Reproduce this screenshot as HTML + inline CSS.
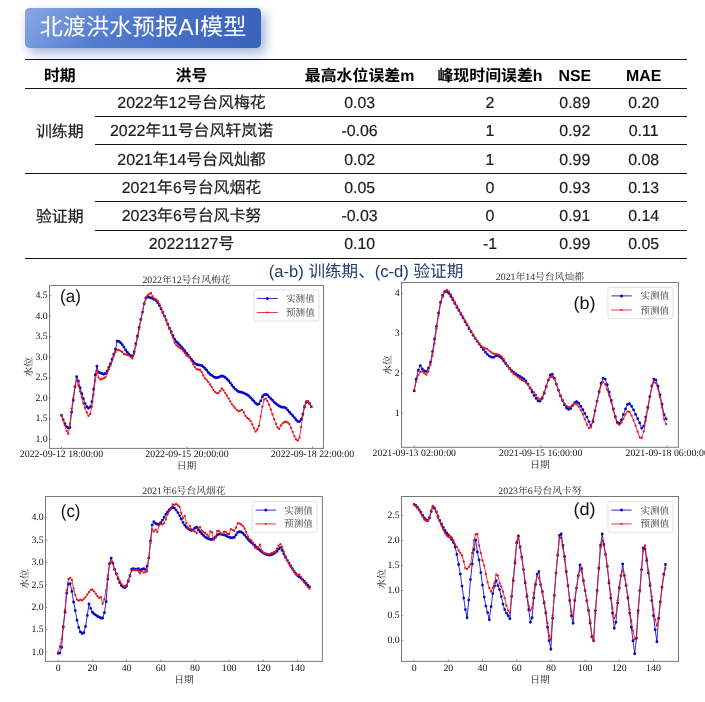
<!DOCTYPE html>
<html lang="zh"><head><meta charset="utf-8"><title>北渡洪水预报AI模型</title>
<style>
html,body{margin:0;padding:0;background:#fff}
body{width:705px;height:702px;position:relative;overflow:hidden;font-family:"Liberation Sans","Noto Sans CJK SC",sans-serif;color:#1c1c1c;text-rendering:geometricPrecision}
svg.charts{position:absolute;left:0;top:0;will-change:transform}
.title{position:absolute;left:25px;top:8.4px;width:236px;height:39.2px;border-radius:4.5px;
 background:linear-gradient(160deg,rgba(255,255,255,.16) 0%,rgba(255,255,255,0) 45%),linear-gradient(100deg,#7398de 0%,#547dd0 30%,#4470c6 62%,#3a62bb 100%);
 box-shadow:4px 5px 12px rgba(60,90,170,.48);color:#fff;font-size:23.1px;line-height:39.2px;text-align:center;white-space:nowrap}
.title span{display:inline-block}
.page{position:absolute;left:0;top:0;width:705px;height:702px;will-change:transform}
.ln{position:absolute}
.c{position:absolute;text-align:center;white-space:nowrap;font-size:15.9px;color:#1c1c1c;-webkit-text-stroke:0.2px #1c1c1c}
.c.h{font-weight:bold;color:#000;font-size:15.9px;-webkit-text-stroke:0}
.c.n{letter-spacing:0}
.cap{position:absolute;left:166px;top:259.8px;width:400px;height:24px;line-height:24px;text-align:center;font-size:16.6px;color:#1f3a70;white-space:nowrap}
</style></head>
<body>
<div class="page">
<div class="title"><span>北渡洪水预报AI模型</span></div>
<div class="ln" style="left:25.2px;top:59.00px;width:661.8px;height:1.15px;background:#111"></div>
<div class="ln" style="left:25.2px;top:88.00px;width:661.8px;height:1.15px;background:#111"></div>
<div class="ln" style="left:94.6px;top:116.00px;width:592.4px;height:1.00px;background:#111"></div>
<div class="ln" style="left:94.6px;top:144.00px;width:592.4px;height:1.00px;background:#111"></div>
<div class="ln" style="left:25.2px;top:173.00px;width:661.8px;height:1.15px;background:#111"></div>
<div class="ln" style="left:94.6px;top:201.00px;width:592.4px;height:1.00px;background:#111"></div>
<div class="ln" style="left:94.6px;top:229.50px;width:592.4px;height:1.00px;background:#111"></div>
<div class="ln" style="left:25.2px;top:258.00px;width:661.8px;height:1.15px;background:#111"></div>
<div class="c h" style="left:-25.2px;top:61.50px;width:170px;height:29.00px;line-height:29.00px">时期</div>
<div class="c h" style="left:106.5px;top:61.50px;width:170px;height:29.00px;line-height:29.00px">洪号</div>
<div class="c h" style="left:274.6px;top:61.50px;width:170px;height:29.00px;line-height:29.00px">最高水位误差m</div>
<div class="c h" style="left:405.0px;top:61.50px;width:170px;height:29.00px;line-height:29.00px">峰现时间误差h</div>
<div class="c h" style="left:489.8px;top:61.50px;width:170px;height:29.00px;line-height:29.00px">NSE</div>
<div class="c h" style="left:558.6px;top:61.50px;width:170px;height:29.00px;line-height:29.00px">MAE</div>
<div class="c n" style="left:106.5px;top:89.70px;width:170px;height:28.00px;line-height:28.00px">2022年12号台风梅花</div>
<div class="c " style="left:274.6px;top:89.70px;width:170px;height:28.00px;line-height:28.00px">0.03</div>
<div class="c " style="left:405.0px;top:89.70px;width:170px;height:28.00px;line-height:28.00px">2</div>
<div class="c " style="left:489.8px;top:89.70px;width:170px;height:28.00px;line-height:28.00px">0.89</div>
<div class="c " style="left:558.6px;top:89.70px;width:170px;height:28.00px;line-height:28.00px">0.20</div>
<div class="c n" style="left:106.5px;top:117.70px;width:170px;height:28.00px;line-height:28.00px">2022年11号台风轩岚诺</div>
<div class="c " style="left:274.6px;top:117.70px;width:170px;height:28.00px;line-height:28.00px">-0.06</div>
<div class="c " style="left:405.0px;top:117.70px;width:170px;height:28.00px;line-height:28.00px">1</div>
<div class="c " style="left:489.8px;top:117.70px;width:170px;height:28.00px;line-height:28.00px">0.92</div>
<div class="c " style="left:558.6px;top:117.70px;width:170px;height:28.00px;line-height:28.00px">0.11</div>
<div class="c n" style="left:106.5px;top:145.70px;width:170px;height:29.00px;line-height:29.00px">2021年14号台风灿都</div>
<div class="c " style="left:274.6px;top:145.70px;width:170px;height:29.00px;line-height:29.00px">0.02</div>
<div class="c " style="left:405.0px;top:145.70px;width:170px;height:29.00px;line-height:29.00px">1</div>
<div class="c " style="left:489.8px;top:145.70px;width:170px;height:29.00px;line-height:29.00px">0.99</div>
<div class="c " style="left:558.6px;top:145.70px;width:170px;height:29.00px;line-height:29.00px">0.08</div>
<div class="c n" style="left:106.5px;top:174.70px;width:170px;height:28.00px;line-height:28.00px">2021年6号台风烟花</div>
<div class="c " style="left:274.6px;top:174.70px;width:170px;height:28.00px;line-height:28.00px">0.05</div>
<div class="c " style="left:405.0px;top:174.70px;width:170px;height:28.00px;line-height:28.00px">0</div>
<div class="c " style="left:489.8px;top:174.70px;width:170px;height:28.00px;line-height:28.00px">0.93</div>
<div class="c " style="left:558.6px;top:174.70px;width:170px;height:28.00px;line-height:28.00px">0.13</div>
<div class="c n" style="left:106.5px;top:202.70px;width:170px;height:28.50px;line-height:28.50px">2023年6号台风卡努</div>
<div class="c " style="left:274.6px;top:202.70px;width:170px;height:28.50px;line-height:28.50px">-0.03</div>
<div class="c " style="left:405.0px;top:202.70px;width:170px;height:28.50px;line-height:28.50px">0</div>
<div class="c " style="left:489.8px;top:202.70px;width:170px;height:28.50px;line-height:28.50px">0.91</div>
<div class="c " style="left:558.6px;top:202.70px;width:170px;height:28.50px;line-height:28.50px">0.14</div>
<div class="c n" style="left:106.5px;top:231.20px;width:170px;height:28.50px;line-height:28.50px">20221127号</div>
<div class="c " style="left:274.6px;top:231.20px;width:170px;height:28.50px;line-height:28.50px">0.10</div>
<div class="c " style="left:405.0px;top:231.20px;width:170px;height:28.50px;line-height:28.50px">-1</div>
<div class="c " style="left:489.8px;top:231.20px;width:170px;height:28.50px;line-height:28.50px">0.99</div>
<div class="c " style="left:558.6px;top:231.20px;width:170px;height:28.50px;line-height:28.50px">0.05</div>
<div class="c " style="left:-25.2px;top:89.70px;width:170px;height:85.00px;line-height:85.00px">训练期</div>
<div class="c " style="left:-25.2px;top:174.70px;width:170px;height:85.00px;line-height:85.00px">验证期</div>
<div class="cap">(a-b) 训练期、(c-d) 验证期</div>
<svg class="charts" width="705" height="702" viewBox="0 0 705 702">
<g>
<polyline fill="none" stroke="#0707c6" stroke-width="0.85" stroke-linejoin="round" points="61.5,415.4 63.2,419.6 64.9,423.7 66.6,426.6 68.3,428.0 69.9,427.5 71.6,412.3 73.3,400.2 75.0,386.7 76.7,376.7 78.4,381.1 80.1,387.7 81.8,393.7 83.4,398.8 85.1,403.6 86.8,406.8 88.5,408.3 90.2,407.0 91.9,401.6 93.6,389.3 95.3,374.9 96.9,366.3 98.6,372.4 100.3,373.0 102.0,373.5 103.7,374.2 105.4,373.5 107.1,371.1 108.8,367.5 110.4,363.9 112.1,359.1 113.8,354.3 115.5,349.3 117.2,341.3 118.9,341.4 120.6,342.7 122.3,344.7 123.9,347.1 125.6,350.0 127.3,352.3 129.0,354.2 130.7,355.8 132.4,356.2 134.1,351.8 135.8,343.8 137.5,336.0 139.1,327.5 140.8,319.4 142.5,312.1 144.2,303.7 145.9,298.3 147.6,296.9 149.3,297.4 151.0,297.9 152.6,298.6 154.3,299.4 156.0,300.5 157.7,302.7 159.4,305.6 161.1,308.9 162.8,312.5 164.5,316.1 166.1,319.9 167.8,324.2 169.5,328.2 171.2,331.8 172.9,335.6 174.6,339.3 176.3,341.8 178.0,343.2 179.6,344.9 181.3,346.8 183.0,348.6 184.7,350.7 186.4,352.9 188.1,355.0 189.8,357.4 191.5,359.5 193.2,361.5 194.8,363.4 196.5,364.3 198.2,364.9 199.9,365.1 201.6,365.5 203.3,366.8 205.0,368.5 206.7,370.3 208.3,372.5 210.0,374.2 211.7,375.4 213.4,376.6 215.1,377.5 216.8,377.8 218.5,377.3 220.2,376.6 221.8,376.0 223.5,376.4 225.2,377.4 226.9,379.0 228.6,380.7 230.3,382.9 232.0,385.3 233.7,387.4 235.3,389.1 237.0,390.6 238.7,391.7 240.4,392.0 242.1,392.5 243.8,393.1 245.5,393.9 247.2,394.8 248.8,396.0 250.5,397.6 252.2,399.5 253.9,401.2 255.6,403.2 257.3,404.4 259.0,404.0 260.7,400.9 262.4,396.8 264.0,394.9 265.7,394.4 267.4,395.0 269.1,396.9 270.8,398.6 272.5,400.3 274.2,402.2 275.9,403.6 277.5,405.0 279.2,406.0 280.9,406.9 282.6,407.3 284.3,407.4 286.0,408.1 287.7,410.1 289.4,412.0 291.0,413.9 292.7,415.6 294.4,417.6 296.1,419.7 297.8,421.4 299.5,421.6 301.2,419.3 302.9,414.1 304.5,407.0 306.2,402.2 307.9,401.7 309.6,403.8 311.3,406.8"/>
<path fill="#0707c6" d="M61.5 415.4m-1.45 0a1.45 1.45 0 1 0 2.90 0a1.45 1.45 0 1 0 -2.90 0M63.2 419.6m-1.45 0a1.45 1.45 0 1 0 2.90 0a1.45 1.45 0 1 0 -2.90 0M64.9 423.7m-1.45 0a1.45 1.45 0 1 0 2.90 0a1.45 1.45 0 1 0 -2.90 0M66.6 426.6m-1.45 0a1.45 1.45 0 1 0 2.90 0a1.45 1.45 0 1 0 -2.90 0M68.3 428.0m-1.45 0a1.45 1.45 0 1 0 2.90 0a1.45 1.45 0 1 0 -2.90 0M69.9 427.5m-1.45 0a1.45 1.45 0 1 0 2.90 0a1.45 1.45 0 1 0 -2.90 0M71.6 412.3m-1.45 0a1.45 1.45 0 1 0 2.90 0a1.45 1.45 0 1 0 -2.90 0M73.3 400.2m-1.45 0a1.45 1.45 0 1 0 2.90 0a1.45 1.45 0 1 0 -2.90 0M75.0 386.7m-1.45 0a1.45 1.45 0 1 0 2.90 0a1.45 1.45 0 1 0 -2.90 0M76.7 376.7m-1.45 0a1.45 1.45 0 1 0 2.90 0a1.45 1.45 0 1 0 -2.90 0M78.4 381.1m-1.45 0a1.45 1.45 0 1 0 2.90 0a1.45 1.45 0 1 0 -2.90 0M80.1 387.7m-1.45 0a1.45 1.45 0 1 0 2.90 0a1.45 1.45 0 1 0 -2.90 0M81.8 393.7m-1.45 0a1.45 1.45 0 1 0 2.90 0a1.45 1.45 0 1 0 -2.90 0M83.4 398.8m-1.45 0a1.45 1.45 0 1 0 2.90 0a1.45 1.45 0 1 0 -2.90 0M85.1 403.6m-1.45 0a1.45 1.45 0 1 0 2.90 0a1.45 1.45 0 1 0 -2.90 0M86.8 406.8m-1.45 0a1.45 1.45 0 1 0 2.90 0a1.45 1.45 0 1 0 -2.90 0M88.5 408.3m-1.45 0a1.45 1.45 0 1 0 2.90 0a1.45 1.45 0 1 0 -2.90 0M90.2 407.0m-1.45 0a1.45 1.45 0 1 0 2.90 0a1.45 1.45 0 1 0 -2.90 0M91.9 401.6m-1.45 0a1.45 1.45 0 1 0 2.90 0a1.45 1.45 0 1 0 -2.90 0M93.6 389.3m-1.45 0a1.45 1.45 0 1 0 2.90 0a1.45 1.45 0 1 0 -2.90 0M95.3 374.9m-1.45 0a1.45 1.45 0 1 0 2.90 0a1.45 1.45 0 1 0 -2.90 0M96.9 366.3m-1.45 0a1.45 1.45 0 1 0 2.90 0a1.45 1.45 0 1 0 -2.90 0M98.6 372.4m-1.45 0a1.45 1.45 0 1 0 2.90 0a1.45 1.45 0 1 0 -2.90 0M100.3 373.0m-1.45 0a1.45 1.45 0 1 0 2.90 0a1.45 1.45 0 1 0 -2.90 0M102.0 373.5m-1.45 0a1.45 1.45 0 1 0 2.90 0a1.45 1.45 0 1 0 -2.90 0M103.7 374.2m-1.45 0a1.45 1.45 0 1 0 2.90 0a1.45 1.45 0 1 0 -2.90 0M105.4 373.5m-1.45 0a1.45 1.45 0 1 0 2.90 0a1.45 1.45 0 1 0 -2.90 0M107.1 371.1m-1.45 0a1.45 1.45 0 1 0 2.90 0a1.45 1.45 0 1 0 -2.90 0M108.8 367.5m-1.45 0a1.45 1.45 0 1 0 2.90 0a1.45 1.45 0 1 0 -2.90 0M110.4 363.9m-1.45 0a1.45 1.45 0 1 0 2.90 0a1.45 1.45 0 1 0 -2.90 0M112.1 359.1m-1.45 0a1.45 1.45 0 1 0 2.90 0a1.45 1.45 0 1 0 -2.90 0M113.8 354.3m-1.45 0a1.45 1.45 0 1 0 2.90 0a1.45 1.45 0 1 0 -2.90 0M115.5 349.3m-1.45 0a1.45 1.45 0 1 0 2.90 0a1.45 1.45 0 1 0 -2.90 0M117.2 341.3m-1.45 0a1.45 1.45 0 1 0 2.90 0a1.45 1.45 0 1 0 -2.90 0M118.9 341.4m-1.45 0a1.45 1.45 0 1 0 2.90 0a1.45 1.45 0 1 0 -2.90 0M120.6 342.7m-1.45 0a1.45 1.45 0 1 0 2.90 0a1.45 1.45 0 1 0 -2.90 0M122.3 344.7m-1.45 0a1.45 1.45 0 1 0 2.90 0a1.45 1.45 0 1 0 -2.90 0M123.9 347.1m-1.45 0a1.45 1.45 0 1 0 2.90 0a1.45 1.45 0 1 0 -2.90 0M125.6 350.0m-1.45 0a1.45 1.45 0 1 0 2.90 0a1.45 1.45 0 1 0 -2.90 0M127.3 352.3m-1.45 0a1.45 1.45 0 1 0 2.90 0a1.45 1.45 0 1 0 -2.90 0M129.0 354.2m-1.45 0a1.45 1.45 0 1 0 2.90 0a1.45 1.45 0 1 0 -2.90 0M130.7 355.8m-1.45 0a1.45 1.45 0 1 0 2.90 0a1.45 1.45 0 1 0 -2.90 0M132.4 356.2m-1.45 0a1.45 1.45 0 1 0 2.90 0a1.45 1.45 0 1 0 -2.90 0M134.1 351.8m-1.45 0a1.45 1.45 0 1 0 2.90 0a1.45 1.45 0 1 0 -2.90 0M135.8 343.8m-1.45 0a1.45 1.45 0 1 0 2.90 0a1.45 1.45 0 1 0 -2.90 0M137.5 336.0m-1.45 0a1.45 1.45 0 1 0 2.90 0a1.45 1.45 0 1 0 -2.90 0M139.1 327.5m-1.45 0a1.45 1.45 0 1 0 2.90 0a1.45 1.45 0 1 0 -2.90 0M140.8 319.4m-1.45 0a1.45 1.45 0 1 0 2.90 0a1.45 1.45 0 1 0 -2.90 0M142.5 312.1m-1.45 0a1.45 1.45 0 1 0 2.90 0a1.45 1.45 0 1 0 -2.90 0M144.2 303.7m-1.45 0a1.45 1.45 0 1 0 2.90 0a1.45 1.45 0 1 0 -2.90 0M145.9 298.3m-1.45 0a1.45 1.45 0 1 0 2.90 0a1.45 1.45 0 1 0 -2.90 0M147.6 296.9m-1.45 0a1.45 1.45 0 1 0 2.90 0a1.45 1.45 0 1 0 -2.90 0M149.3 297.4m-1.45 0a1.45 1.45 0 1 0 2.90 0a1.45 1.45 0 1 0 -2.90 0M151.0 297.9m-1.45 0a1.45 1.45 0 1 0 2.90 0a1.45 1.45 0 1 0 -2.90 0M152.6 298.6m-1.45 0a1.45 1.45 0 1 0 2.90 0a1.45 1.45 0 1 0 -2.90 0M154.3 299.4m-1.45 0a1.45 1.45 0 1 0 2.90 0a1.45 1.45 0 1 0 -2.90 0M156.0 300.5m-1.45 0a1.45 1.45 0 1 0 2.90 0a1.45 1.45 0 1 0 -2.90 0M157.7 302.7m-1.45 0a1.45 1.45 0 1 0 2.90 0a1.45 1.45 0 1 0 -2.90 0M159.4 305.6m-1.45 0a1.45 1.45 0 1 0 2.90 0a1.45 1.45 0 1 0 -2.90 0M161.1 308.9m-1.45 0a1.45 1.45 0 1 0 2.90 0a1.45 1.45 0 1 0 -2.90 0M162.8 312.5m-1.45 0a1.45 1.45 0 1 0 2.90 0a1.45 1.45 0 1 0 -2.90 0M164.5 316.1m-1.45 0a1.45 1.45 0 1 0 2.90 0a1.45 1.45 0 1 0 -2.90 0M166.1 319.9m-1.45 0a1.45 1.45 0 1 0 2.90 0a1.45 1.45 0 1 0 -2.90 0M167.8 324.2m-1.45 0a1.45 1.45 0 1 0 2.90 0a1.45 1.45 0 1 0 -2.90 0M169.5 328.2m-1.45 0a1.45 1.45 0 1 0 2.90 0a1.45 1.45 0 1 0 -2.90 0M171.2 331.8m-1.45 0a1.45 1.45 0 1 0 2.90 0a1.45 1.45 0 1 0 -2.90 0M172.9 335.6m-1.45 0a1.45 1.45 0 1 0 2.90 0a1.45 1.45 0 1 0 -2.90 0M174.6 339.3m-1.45 0a1.45 1.45 0 1 0 2.90 0a1.45 1.45 0 1 0 -2.90 0M176.3 341.8m-1.45 0a1.45 1.45 0 1 0 2.90 0a1.45 1.45 0 1 0 -2.90 0M178.0 343.2m-1.45 0a1.45 1.45 0 1 0 2.90 0a1.45 1.45 0 1 0 -2.90 0M179.6 344.9m-1.45 0a1.45 1.45 0 1 0 2.90 0a1.45 1.45 0 1 0 -2.90 0M181.3 346.8m-1.45 0a1.45 1.45 0 1 0 2.90 0a1.45 1.45 0 1 0 -2.90 0M183.0 348.6m-1.45 0a1.45 1.45 0 1 0 2.90 0a1.45 1.45 0 1 0 -2.90 0M184.7 350.7m-1.45 0a1.45 1.45 0 1 0 2.90 0a1.45 1.45 0 1 0 -2.90 0M186.4 352.9m-1.45 0a1.45 1.45 0 1 0 2.90 0a1.45 1.45 0 1 0 -2.90 0M188.1 355.0m-1.45 0a1.45 1.45 0 1 0 2.90 0a1.45 1.45 0 1 0 -2.90 0M189.8 357.4m-1.45 0a1.45 1.45 0 1 0 2.90 0a1.45 1.45 0 1 0 -2.90 0M191.5 359.5m-1.45 0a1.45 1.45 0 1 0 2.90 0a1.45 1.45 0 1 0 -2.90 0M193.2 361.5m-1.45 0a1.45 1.45 0 1 0 2.90 0a1.45 1.45 0 1 0 -2.90 0M194.8 363.4m-1.45 0a1.45 1.45 0 1 0 2.90 0a1.45 1.45 0 1 0 -2.90 0M196.5 364.3m-1.45 0a1.45 1.45 0 1 0 2.90 0a1.45 1.45 0 1 0 -2.90 0M198.2 364.9m-1.45 0a1.45 1.45 0 1 0 2.90 0a1.45 1.45 0 1 0 -2.90 0M199.9 365.1m-1.45 0a1.45 1.45 0 1 0 2.90 0a1.45 1.45 0 1 0 -2.90 0M201.6 365.5m-1.45 0a1.45 1.45 0 1 0 2.90 0a1.45 1.45 0 1 0 -2.90 0M203.3 366.8m-1.45 0a1.45 1.45 0 1 0 2.90 0a1.45 1.45 0 1 0 -2.90 0M205.0 368.5m-1.45 0a1.45 1.45 0 1 0 2.90 0a1.45 1.45 0 1 0 -2.90 0M206.7 370.3m-1.45 0a1.45 1.45 0 1 0 2.90 0a1.45 1.45 0 1 0 -2.90 0M208.3 372.5m-1.45 0a1.45 1.45 0 1 0 2.90 0a1.45 1.45 0 1 0 -2.90 0M210.0 374.2m-1.45 0a1.45 1.45 0 1 0 2.90 0a1.45 1.45 0 1 0 -2.90 0M211.7 375.4m-1.45 0a1.45 1.45 0 1 0 2.90 0a1.45 1.45 0 1 0 -2.90 0M213.4 376.6m-1.45 0a1.45 1.45 0 1 0 2.90 0a1.45 1.45 0 1 0 -2.90 0M215.1 377.5m-1.45 0a1.45 1.45 0 1 0 2.90 0a1.45 1.45 0 1 0 -2.90 0M216.8 377.8m-1.45 0a1.45 1.45 0 1 0 2.90 0a1.45 1.45 0 1 0 -2.90 0M218.5 377.3m-1.45 0a1.45 1.45 0 1 0 2.90 0a1.45 1.45 0 1 0 -2.90 0M220.2 376.6m-1.45 0a1.45 1.45 0 1 0 2.90 0a1.45 1.45 0 1 0 -2.90 0M221.8 376.0m-1.45 0a1.45 1.45 0 1 0 2.90 0a1.45 1.45 0 1 0 -2.90 0M223.5 376.4m-1.45 0a1.45 1.45 0 1 0 2.90 0a1.45 1.45 0 1 0 -2.90 0M225.2 377.4m-1.45 0a1.45 1.45 0 1 0 2.90 0a1.45 1.45 0 1 0 -2.90 0M226.9 379.0m-1.45 0a1.45 1.45 0 1 0 2.90 0a1.45 1.45 0 1 0 -2.90 0M228.6 380.7m-1.45 0a1.45 1.45 0 1 0 2.90 0a1.45 1.45 0 1 0 -2.90 0M230.3 382.9m-1.45 0a1.45 1.45 0 1 0 2.90 0a1.45 1.45 0 1 0 -2.90 0M232.0 385.3m-1.45 0a1.45 1.45 0 1 0 2.90 0a1.45 1.45 0 1 0 -2.90 0M233.7 387.4m-1.45 0a1.45 1.45 0 1 0 2.90 0a1.45 1.45 0 1 0 -2.90 0M235.3 389.1m-1.45 0a1.45 1.45 0 1 0 2.90 0a1.45 1.45 0 1 0 -2.90 0M237.0 390.6m-1.45 0a1.45 1.45 0 1 0 2.90 0a1.45 1.45 0 1 0 -2.90 0M238.7 391.7m-1.45 0a1.45 1.45 0 1 0 2.90 0a1.45 1.45 0 1 0 -2.90 0M240.4 392.0m-1.45 0a1.45 1.45 0 1 0 2.90 0a1.45 1.45 0 1 0 -2.90 0M242.1 392.5m-1.45 0a1.45 1.45 0 1 0 2.90 0a1.45 1.45 0 1 0 -2.90 0M243.8 393.1m-1.45 0a1.45 1.45 0 1 0 2.90 0a1.45 1.45 0 1 0 -2.90 0M245.5 393.9m-1.45 0a1.45 1.45 0 1 0 2.90 0a1.45 1.45 0 1 0 -2.90 0M247.2 394.8m-1.45 0a1.45 1.45 0 1 0 2.90 0a1.45 1.45 0 1 0 -2.90 0M248.8 396.0m-1.45 0a1.45 1.45 0 1 0 2.90 0a1.45 1.45 0 1 0 -2.90 0M250.5 397.6m-1.45 0a1.45 1.45 0 1 0 2.90 0a1.45 1.45 0 1 0 -2.90 0M252.2 399.5m-1.45 0a1.45 1.45 0 1 0 2.90 0a1.45 1.45 0 1 0 -2.90 0M253.9 401.2m-1.45 0a1.45 1.45 0 1 0 2.90 0a1.45 1.45 0 1 0 -2.90 0M255.6 403.2m-1.45 0a1.45 1.45 0 1 0 2.90 0a1.45 1.45 0 1 0 -2.90 0M257.3 404.4m-1.45 0a1.45 1.45 0 1 0 2.90 0a1.45 1.45 0 1 0 -2.90 0M259.0 404.0m-1.45 0a1.45 1.45 0 1 0 2.90 0a1.45 1.45 0 1 0 -2.90 0M260.7 400.9m-1.45 0a1.45 1.45 0 1 0 2.90 0a1.45 1.45 0 1 0 -2.90 0M262.4 396.8m-1.45 0a1.45 1.45 0 1 0 2.90 0a1.45 1.45 0 1 0 -2.90 0M264.0 394.9m-1.45 0a1.45 1.45 0 1 0 2.90 0a1.45 1.45 0 1 0 -2.90 0M265.7 394.4m-1.45 0a1.45 1.45 0 1 0 2.90 0a1.45 1.45 0 1 0 -2.90 0M267.4 395.0m-1.45 0a1.45 1.45 0 1 0 2.90 0a1.45 1.45 0 1 0 -2.90 0M269.1 396.9m-1.45 0a1.45 1.45 0 1 0 2.90 0a1.45 1.45 0 1 0 -2.90 0M270.8 398.6m-1.45 0a1.45 1.45 0 1 0 2.90 0a1.45 1.45 0 1 0 -2.90 0M272.5 400.3m-1.45 0a1.45 1.45 0 1 0 2.90 0a1.45 1.45 0 1 0 -2.90 0M274.2 402.2m-1.45 0a1.45 1.45 0 1 0 2.90 0a1.45 1.45 0 1 0 -2.90 0M275.9 403.6m-1.45 0a1.45 1.45 0 1 0 2.90 0a1.45 1.45 0 1 0 -2.90 0M277.5 405.0m-1.45 0a1.45 1.45 0 1 0 2.90 0a1.45 1.45 0 1 0 -2.90 0M279.2 406.0m-1.45 0a1.45 1.45 0 1 0 2.90 0a1.45 1.45 0 1 0 -2.90 0M280.9 406.9m-1.45 0a1.45 1.45 0 1 0 2.90 0a1.45 1.45 0 1 0 -2.90 0M282.6 407.3m-1.45 0a1.45 1.45 0 1 0 2.90 0a1.45 1.45 0 1 0 -2.90 0M284.3 407.4m-1.45 0a1.45 1.45 0 1 0 2.90 0a1.45 1.45 0 1 0 -2.90 0M286.0 408.1m-1.45 0a1.45 1.45 0 1 0 2.90 0a1.45 1.45 0 1 0 -2.90 0M287.7 410.1m-1.45 0a1.45 1.45 0 1 0 2.90 0a1.45 1.45 0 1 0 -2.90 0M289.4 412.0m-1.45 0a1.45 1.45 0 1 0 2.90 0a1.45 1.45 0 1 0 -2.90 0M291.0 413.9m-1.45 0a1.45 1.45 0 1 0 2.90 0a1.45 1.45 0 1 0 -2.90 0M292.7 415.6m-1.45 0a1.45 1.45 0 1 0 2.90 0a1.45 1.45 0 1 0 -2.90 0M294.4 417.6m-1.45 0a1.45 1.45 0 1 0 2.90 0a1.45 1.45 0 1 0 -2.90 0M296.1 419.7m-1.45 0a1.45 1.45 0 1 0 2.90 0a1.45 1.45 0 1 0 -2.90 0M297.8 421.4m-1.45 0a1.45 1.45 0 1 0 2.90 0a1.45 1.45 0 1 0 -2.90 0M299.5 421.6m-1.45 0a1.45 1.45 0 1 0 2.90 0a1.45 1.45 0 1 0 -2.90 0M301.2 419.3m-1.45 0a1.45 1.45 0 1 0 2.90 0a1.45 1.45 0 1 0 -2.90 0M302.9 414.1m-1.45 0a1.45 1.45 0 1 0 2.90 0a1.45 1.45 0 1 0 -2.90 0M304.5 407.0m-1.45 0a1.45 1.45 0 1 0 2.90 0a1.45 1.45 0 1 0 -2.90 0M306.2 402.2m-1.45 0a1.45 1.45 0 1 0 2.90 0a1.45 1.45 0 1 0 -2.90 0M307.9 401.7m-1.45 0a1.45 1.45 0 1 0 2.90 0a1.45 1.45 0 1 0 -2.90 0M309.6 403.8m-1.45 0a1.45 1.45 0 1 0 2.90 0a1.45 1.45 0 1 0 -2.90 0M311.3 406.8m-1.45 0a1.45 1.45 0 1 0 2.90 0a1.45 1.45 0 1 0 -2.90 0"/>
<polyline fill="none" stroke="#e2161c" stroke-width="0.85" stroke-linejoin="round" points="61.5,415.5 63.2,420.3 64.9,425.2 66.6,431.1 68.3,433.8 69.9,423.8 71.6,408.8 73.3,397.8 75.0,386.1 76.7,379.3 78.4,385.4 80.1,391.4 81.8,397.4 83.4,403.2 85.1,408.0 86.8,412.5 88.5,415.9 90.2,413.9 91.9,406.7 93.6,394.7 95.3,380.6 96.9,370.7 98.6,377.6 100.3,379.6 102.0,378.9 103.7,378.3 105.4,377.2 107.1,373.6 108.8,369.3 110.4,365.6 112.1,360.9 113.8,356.1 115.5,351.9 117.2,349.8 118.9,350.1 120.6,350.8 122.3,352.0 123.9,353.9 125.6,354.4 127.3,354.9 129.0,355.6 130.7,356.8 132.4,358.6 134.1,354.0 135.8,345.6 137.5,337.7 139.1,329.4 140.8,320.3 142.5,311.8 144.2,303.2 145.9,297.4 147.6,295.2 149.3,294.2 151.0,292.8 152.6,296.5 154.3,298.6 156.0,299.4 157.7,300.8 159.4,304.1 161.1,307.9 162.8,312.2 164.5,316.3 166.1,320.4 167.8,324.8 169.5,329.0 171.2,333.1 172.9,337.7 174.6,342.6 176.3,345.3 178.0,346.5 179.6,347.7 181.3,349.0 183.0,350.7 184.7,353.1 186.4,355.5 188.1,356.3 189.8,357.3 191.5,360.9 193.2,364.3 194.8,367.1 196.5,369.1 198.2,369.7 199.9,369.7 201.6,371.9 203.3,375.5 205.0,378.4 206.7,380.1 208.3,382.1 210.0,384.5 211.7,386.9 213.4,390.1 215.1,392.1 216.8,393.3 218.5,392.9 220.2,390.9 221.8,388.5 223.5,390.3 225.2,393.1 226.9,395.5 228.6,398.4 230.3,401.4 232.0,404.3 233.7,406.4 235.3,408.3 237.0,410.1 238.7,411.4 240.4,410.6 242.1,409.8 243.8,412.4 245.5,415.9 247.2,418.0 248.8,419.1 250.5,420.9 252.2,424.4 253.9,428.1 255.6,431.7 257.3,429.5 259.0,425.9 260.7,416.3 262.4,406.7 264.0,399.6 265.7,398.6 267.4,401.0 269.1,404.7 270.8,409.5 272.5,414.4 274.2,419.2 275.9,423.9 277.5,427.3 279.2,428.9 280.9,425.5 282.6,423.3 284.3,422.2 286.0,421.7 287.7,422.5 289.4,424.2 291.0,427.9 292.7,431.8 294.4,436.3 296.1,439.4 297.8,440.6 299.5,437.7 301.2,427.0 302.9,415.3 304.5,405.9 306.2,401.3 307.9,401.1 309.6,403.5 311.3,406.8"/>
<path fill="#e2161c" d="M61.5 415.5m-1.15 0a1.15 1.15 0 1 0 2.30 0a1.15 1.15 0 1 0 -2.30 0M63.2 420.3m-1.15 0a1.15 1.15 0 1 0 2.30 0a1.15 1.15 0 1 0 -2.30 0M64.9 425.2m-1.15 0a1.15 1.15 0 1 0 2.30 0a1.15 1.15 0 1 0 -2.30 0M66.6 431.1m-1.15 0a1.15 1.15 0 1 0 2.30 0a1.15 1.15 0 1 0 -2.30 0M68.3 433.8m-1.15 0a1.15 1.15 0 1 0 2.30 0a1.15 1.15 0 1 0 -2.30 0M69.9 423.8m-1.15 0a1.15 1.15 0 1 0 2.30 0a1.15 1.15 0 1 0 -2.30 0M71.6 408.8m-1.15 0a1.15 1.15 0 1 0 2.30 0a1.15 1.15 0 1 0 -2.30 0M73.3 397.8m-1.15 0a1.15 1.15 0 1 0 2.30 0a1.15 1.15 0 1 0 -2.30 0M75.0 386.1m-1.15 0a1.15 1.15 0 1 0 2.30 0a1.15 1.15 0 1 0 -2.30 0M76.7 379.3m-1.15 0a1.15 1.15 0 1 0 2.30 0a1.15 1.15 0 1 0 -2.30 0M78.4 385.4m-1.15 0a1.15 1.15 0 1 0 2.30 0a1.15 1.15 0 1 0 -2.30 0M80.1 391.4m-1.15 0a1.15 1.15 0 1 0 2.30 0a1.15 1.15 0 1 0 -2.30 0M81.8 397.4m-1.15 0a1.15 1.15 0 1 0 2.30 0a1.15 1.15 0 1 0 -2.30 0M83.4 403.2m-1.15 0a1.15 1.15 0 1 0 2.30 0a1.15 1.15 0 1 0 -2.30 0M85.1 408.0m-1.15 0a1.15 1.15 0 1 0 2.30 0a1.15 1.15 0 1 0 -2.30 0M86.8 412.5m-1.15 0a1.15 1.15 0 1 0 2.30 0a1.15 1.15 0 1 0 -2.30 0M88.5 415.9m-1.15 0a1.15 1.15 0 1 0 2.30 0a1.15 1.15 0 1 0 -2.30 0M90.2 413.9m-1.15 0a1.15 1.15 0 1 0 2.30 0a1.15 1.15 0 1 0 -2.30 0M91.9 406.7m-1.15 0a1.15 1.15 0 1 0 2.30 0a1.15 1.15 0 1 0 -2.30 0M93.6 394.7m-1.15 0a1.15 1.15 0 1 0 2.30 0a1.15 1.15 0 1 0 -2.30 0M95.3 380.6m-1.15 0a1.15 1.15 0 1 0 2.30 0a1.15 1.15 0 1 0 -2.30 0M96.9 370.7m-1.15 0a1.15 1.15 0 1 0 2.30 0a1.15 1.15 0 1 0 -2.30 0M98.6 377.6m-1.15 0a1.15 1.15 0 1 0 2.30 0a1.15 1.15 0 1 0 -2.30 0M100.3 379.6m-1.15 0a1.15 1.15 0 1 0 2.30 0a1.15 1.15 0 1 0 -2.30 0M102.0 378.9m-1.15 0a1.15 1.15 0 1 0 2.30 0a1.15 1.15 0 1 0 -2.30 0M103.7 378.3m-1.15 0a1.15 1.15 0 1 0 2.30 0a1.15 1.15 0 1 0 -2.30 0M105.4 377.2m-1.15 0a1.15 1.15 0 1 0 2.30 0a1.15 1.15 0 1 0 -2.30 0M107.1 373.6m-1.15 0a1.15 1.15 0 1 0 2.30 0a1.15 1.15 0 1 0 -2.30 0M108.8 369.3m-1.15 0a1.15 1.15 0 1 0 2.30 0a1.15 1.15 0 1 0 -2.30 0M110.4 365.6m-1.15 0a1.15 1.15 0 1 0 2.30 0a1.15 1.15 0 1 0 -2.30 0M112.1 360.9m-1.15 0a1.15 1.15 0 1 0 2.30 0a1.15 1.15 0 1 0 -2.30 0M113.8 356.1m-1.15 0a1.15 1.15 0 1 0 2.30 0a1.15 1.15 0 1 0 -2.30 0M115.5 351.9m-1.15 0a1.15 1.15 0 1 0 2.30 0a1.15 1.15 0 1 0 -2.30 0M117.2 349.8m-1.15 0a1.15 1.15 0 1 0 2.30 0a1.15 1.15 0 1 0 -2.30 0M118.9 350.1m-1.15 0a1.15 1.15 0 1 0 2.30 0a1.15 1.15 0 1 0 -2.30 0M120.6 350.8m-1.15 0a1.15 1.15 0 1 0 2.30 0a1.15 1.15 0 1 0 -2.30 0M122.3 352.0m-1.15 0a1.15 1.15 0 1 0 2.30 0a1.15 1.15 0 1 0 -2.30 0M123.9 353.9m-1.15 0a1.15 1.15 0 1 0 2.30 0a1.15 1.15 0 1 0 -2.30 0M125.6 354.4m-1.15 0a1.15 1.15 0 1 0 2.30 0a1.15 1.15 0 1 0 -2.30 0M127.3 354.9m-1.15 0a1.15 1.15 0 1 0 2.30 0a1.15 1.15 0 1 0 -2.30 0M129.0 355.6m-1.15 0a1.15 1.15 0 1 0 2.30 0a1.15 1.15 0 1 0 -2.30 0M130.7 356.8m-1.15 0a1.15 1.15 0 1 0 2.30 0a1.15 1.15 0 1 0 -2.30 0M132.4 358.6m-1.15 0a1.15 1.15 0 1 0 2.30 0a1.15 1.15 0 1 0 -2.30 0M134.1 354.0m-1.15 0a1.15 1.15 0 1 0 2.30 0a1.15 1.15 0 1 0 -2.30 0M135.8 345.6m-1.15 0a1.15 1.15 0 1 0 2.30 0a1.15 1.15 0 1 0 -2.30 0M137.5 337.7m-1.15 0a1.15 1.15 0 1 0 2.30 0a1.15 1.15 0 1 0 -2.30 0M139.1 329.4m-1.15 0a1.15 1.15 0 1 0 2.30 0a1.15 1.15 0 1 0 -2.30 0M140.8 320.3m-1.15 0a1.15 1.15 0 1 0 2.30 0a1.15 1.15 0 1 0 -2.30 0M142.5 311.8m-1.15 0a1.15 1.15 0 1 0 2.30 0a1.15 1.15 0 1 0 -2.30 0M144.2 303.2m-1.15 0a1.15 1.15 0 1 0 2.30 0a1.15 1.15 0 1 0 -2.30 0M145.9 297.4m-1.15 0a1.15 1.15 0 1 0 2.30 0a1.15 1.15 0 1 0 -2.30 0M147.6 295.2m-1.15 0a1.15 1.15 0 1 0 2.30 0a1.15 1.15 0 1 0 -2.30 0M149.3 294.2m-1.15 0a1.15 1.15 0 1 0 2.30 0a1.15 1.15 0 1 0 -2.30 0M151.0 292.8m-1.15 0a1.15 1.15 0 1 0 2.30 0a1.15 1.15 0 1 0 -2.30 0M152.6 296.5m-1.15 0a1.15 1.15 0 1 0 2.30 0a1.15 1.15 0 1 0 -2.30 0M154.3 298.6m-1.15 0a1.15 1.15 0 1 0 2.30 0a1.15 1.15 0 1 0 -2.30 0M156.0 299.4m-1.15 0a1.15 1.15 0 1 0 2.30 0a1.15 1.15 0 1 0 -2.30 0M157.7 300.8m-1.15 0a1.15 1.15 0 1 0 2.30 0a1.15 1.15 0 1 0 -2.30 0M159.4 304.1m-1.15 0a1.15 1.15 0 1 0 2.30 0a1.15 1.15 0 1 0 -2.30 0M161.1 307.9m-1.15 0a1.15 1.15 0 1 0 2.30 0a1.15 1.15 0 1 0 -2.30 0M162.8 312.2m-1.15 0a1.15 1.15 0 1 0 2.30 0a1.15 1.15 0 1 0 -2.30 0M164.5 316.3m-1.15 0a1.15 1.15 0 1 0 2.30 0a1.15 1.15 0 1 0 -2.30 0M166.1 320.4m-1.15 0a1.15 1.15 0 1 0 2.30 0a1.15 1.15 0 1 0 -2.30 0M167.8 324.8m-1.15 0a1.15 1.15 0 1 0 2.30 0a1.15 1.15 0 1 0 -2.30 0M169.5 329.0m-1.15 0a1.15 1.15 0 1 0 2.30 0a1.15 1.15 0 1 0 -2.30 0M171.2 333.1m-1.15 0a1.15 1.15 0 1 0 2.30 0a1.15 1.15 0 1 0 -2.30 0M172.9 337.7m-1.15 0a1.15 1.15 0 1 0 2.30 0a1.15 1.15 0 1 0 -2.30 0M174.6 342.6m-1.15 0a1.15 1.15 0 1 0 2.30 0a1.15 1.15 0 1 0 -2.30 0M176.3 345.3m-1.15 0a1.15 1.15 0 1 0 2.30 0a1.15 1.15 0 1 0 -2.30 0M178.0 346.5m-1.15 0a1.15 1.15 0 1 0 2.30 0a1.15 1.15 0 1 0 -2.30 0M179.6 347.7m-1.15 0a1.15 1.15 0 1 0 2.30 0a1.15 1.15 0 1 0 -2.30 0M181.3 349.0m-1.15 0a1.15 1.15 0 1 0 2.30 0a1.15 1.15 0 1 0 -2.30 0M183.0 350.7m-1.15 0a1.15 1.15 0 1 0 2.30 0a1.15 1.15 0 1 0 -2.30 0M184.7 353.1m-1.15 0a1.15 1.15 0 1 0 2.30 0a1.15 1.15 0 1 0 -2.30 0M186.4 355.5m-1.15 0a1.15 1.15 0 1 0 2.30 0a1.15 1.15 0 1 0 -2.30 0M188.1 356.3m-1.15 0a1.15 1.15 0 1 0 2.30 0a1.15 1.15 0 1 0 -2.30 0M189.8 357.3m-1.15 0a1.15 1.15 0 1 0 2.30 0a1.15 1.15 0 1 0 -2.30 0M191.5 360.9m-1.15 0a1.15 1.15 0 1 0 2.30 0a1.15 1.15 0 1 0 -2.30 0M193.2 364.3m-1.15 0a1.15 1.15 0 1 0 2.30 0a1.15 1.15 0 1 0 -2.30 0M194.8 367.1m-1.15 0a1.15 1.15 0 1 0 2.30 0a1.15 1.15 0 1 0 -2.30 0M196.5 369.1m-1.15 0a1.15 1.15 0 1 0 2.30 0a1.15 1.15 0 1 0 -2.30 0M198.2 369.7m-1.15 0a1.15 1.15 0 1 0 2.30 0a1.15 1.15 0 1 0 -2.30 0M199.9 369.7m-1.15 0a1.15 1.15 0 1 0 2.30 0a1.15 1.15 0 1 0 -2.30 0M201.6 371.9m-1.15 0a1.15 1.15 0 1 0 2.30 0a1.15 1.15 0 1 0 -2.30 0M203.3 375.5m-1.15 0a1.15 1.15 0 1 0 2.30 0a1.15 1.15 0 1 0 -2.30 0M205.0 378.4m-1.15 0a1.15 1.15 0 1 0 2.30 0a1.15 1.15 0 1 0 -2.30 0M206.7 380.1m-1.15 0a1.15 1.15 0 1 0 2.30 0a1.15 1.15 0 1 0 -2.30 0M208.3 382.1m-1.15 0a1.15 1.15 0 1 0 2.30 0a1.15 1.15 0 1 0 -2.30 0M210.0 384.5m-1.15 0a1.15 1.15 0 1 0 2.30 0a1.15 1.15 0 1 0 -2.30 0M211.7 386.9m-1.15 0a1.15 1.15 0 1 0 2.30 0a1.15 1.15 0 1 0 -2.30 0M213.4 390.1m-1.15 0a1.15 1.15 0 1 0 2.30 0a1.15 1.15 0 1 0 -2.30 0M215.1 392.1m-1.15 0a1.15 1.15 0 1 0 2.30 0a1.15 1.15 0 1 0 -2.30 0M216.8 393.3m-1.15 0a1.15 1.15 0 1 0 2.30 0a1.15 1.15 0 1 0 -2.30 0M218.5 392.9m-1.15 0a1.15 1.15 0 1 0 2.30 0a1.15 1.15 0 1 0 -2.30 0M220.2 390.9m-1.15 0a1.15 1.15 0 1 0 2.30 0a1.15 1.15 0 1 0 -2.30 0M221.8 388.5m-1.15 0a1.15 1.15 0 1 0 2.30 0a1.15 1.15 0 1 0 -2.30 0M223.5 390.3m-1.15 0a1.15 1.15 0 1 0 2.30 0a1.15 1.15 0 1 0 -2.30 0M225.2 393.1m-1.15 0a1.15 1.15 0 1 0 2.30 0a1.15 1.15 0 1 0 -2.30 0M226.9 395.5m-1.15 0a1.15 1.15 0 1 0 2.30 0a1.15 1.15 0 1 0 -2.30 0M228.6 398.4m-1.15 0a1.15 1.15 0 1 0 2.30 0a1.15 1.15 0 1 0 -2.30 0M230.3 401.4m-1.15 0a1.15 1.15 0 1 0 2.30 0a1.15 1.15 0 1 0 -2.30 0M232.0 404.3m-1.15 0a1.15 1.15 0 1 0 2.30 0a1.15 1.15 0 1 0 -2.30 0M233.7 406.4m-1.15 0a1.15 1.15 0 1 0 2.30 0a1.15 1.15 0 1 0 -2.30 0M235.3 408.3m-1.15 0a1.15 1.15 0 1 0 2.30 0a1.15 1.15 0 1 0 -2.30 0M237.0 410.1m-1.15 0a1.15 1.15 0 1 0 2.30 0a1.15 1.15 0 1 0 -2.30 0M238.7 411.4m-1.15 0a1.15 1.15 0 1 0 2.30 0a1.15 1.15 0 1 0 -2.30 0M240.4 410.6m-1.15 0a1.15 1.15 0 1 0 2.30 0a1.15 1.15 0 1 0 -2.30 0M242.1 409.8m-1.15 0a1.15 1.15 0 1 0 2.30 0a1.15 1.15 0 1 0 -2.30 0M243.8 412.4m-1.15 0a1.15 1.15 0 1 0 2.30 0a1.15 1.15 0 1 0 -2.30 0M245.5 415.9m-1.15 0a1.15 1.15 0 1 0 2.30 0a1.15 1.15 0 1 0 -2.30 0M247.2 418.0m-1.15 0a1.15 1.15 0 1 0 2.30 0a1.15 1.15 0 1 0 -2.30 0M248.8 419.1m-1.15 0a1.15 1.15 0 1 0 2.30 0a1.15 1.15 0 1 0 -2.30 0M250.5 420.9m-1.15 0a1.15 1.15 0 1 0 2.30 0a1.15 1.15 0 1 0 -2.30 0M252.2 424.4m-1.15 0a1.15 1.15 0 1 0 2.30 0a1.15 1.15 0 1 0 -2.30 0M253.9 428.1m-1.15 0a1.15 1.15 0 1 0 2.30 0a1.15 1.15 0 1 0 -2.30 0M255.6 431.7m-1.15 0a1.15 1.15 0 1 0 2.30 0a1.15 1.15 0 1 0 -2.30 0M257.3 429.5m-1.15 0a1.15 1.15 0 1 0 2.30 0a1.15 1.15 0 1 0 -2.30 0M259.0 425.9m-1.15 0a1.15 1.15 0 1 0 2.30 0a1.15 1.15 0 1 0 -2.30 0M260.7 416.3m-1.15 0a1.15 1.15 0 1 0 2.30 0a1.15 1.15 0 1 0 -2.30 0M262.4 406.7m-1.15 0a1.15 1.15 0 1 0 2.30 0a1.15 1.15 0 1 0 -2.30 0M264.0 399.6m-1.15 0a1.15 1.15 0 1 0 2.30 0a1.15 1.15 0 1 0 -2.30 0M265.7 398.6m-1.15 0a1.15 1.15 0 1 0 2.30 0a1.15 1.15 0 1 0 -2.30 0M267.4 401.0m-1.15 0a1.15 1.15 0 1 0 2.30 0a1.15 1.15 0 1 0 -2.30 0M269.1 404.7m-1.15 0a1.15 1.15 0 1 0 2.30 0a1.15 1.15 0 1 0 -2.30 0M270.8 409.5m-1.15 0a1.15 1.15 0 1 0 2.30 0a1.15 1.15 0 1 0 -2.30 0M272.5 414.4m-1.15 0a1.15 1.15 0 1 0 2.30 0a1.15 1.15 0 1 0 -2.30 0M274.2 419.2m-1.15 0a1.15 1.15 0 1 0 2.30 0a1.15 1.15 0 1 0 -2.30 0M275.9 423.9m-1.15 0a1.15 1.15 0 1 0 2.30 0a1.15 1.15 0 1 0 -2.30 0M277.5 427.3m-1.15 0a1.15 1.15 0 1 0 2.30 0a1.15 1.15 0 1 0 -2.30 0M279.2 428.9m-1.15 0a1.15 1.15 0 1 0 2.30 0a1.15 1.15 0 1 0 -2.30 0M280.9 425.5m-1.15 0a1.15 1.15 0 1 0 2.30 0a1.15 1.15 0 1 0 -2.30 0M282.6 423.3m-1.15 0a1.15 1.15 0 1 0 2.30 0a1.15 1.15 0 1 0 -2.30 0M284.3 422.2m-1.15 0a1.15 1.15 0 1 0 2.30 0a1.15 1.15 0 1 0 -2.30 0M286.0 421.7m-1.15 0a1.15 1.15 0 1 0 2.30 0a1.15 1.15 0 1 0 -2.30 0M287.7 422.5m-1.15 0a1.15 1.15 0 1 0 2.30 0a1.15 1.15 0 1 0 -2.30 0M289.4 424.2m-1.15 0a1.15 1.15 0 1 0 2.30 0a1.15 1.15 0 1 0 -2.30 0M291.0 427.9m-1.15 0a1.15 1.15 0 1 0 2.30 0a1.15 1.15 0 1 0 -2.30 0M292.7 431.8m-1.15 0a1.15 1.15 0 1 0 2.30 0a1.15 1.15 0 1 0 -2.30 0M294.4 436.3m-1.15 0a1.15 1.15 0 1 0 2.30 0a1.15 1.15 0 1 0 -2.30 0M296.1 439.4m-1.15 0a1.15 1.15 0 1 0 2.30 0a1.15 1.15 0 1 0 -2.30 0M297.8 440.6m-1.15 0a1.15 1.15 0 1 0 2.30 0a1.15 1.15 0 1 0 -2.30 0M299.5 437.7m-1.15 0a1.15 1.15 0 1 0 2.30 0a1.15 1.15 0 1 0 -2.30 0M301.2 427.0m-1.15 0a1.15 1.15 0 1 0 2.30 0a1.15 1.15 0 1 0 -2.30 0M302.9 415.3m-1.15 0a1.15 1.15 0 1 0 2.30 0a1.15 1.15 0 1 0 -2.30 0M304.5 405.9m-1.15 0a1.15 1.15 0 1 0 2.30 0a1.15 1.15 0 1 0 -2.30 0M306.2 401.3m-1.15 0a1.15 1.15 0 1 0 2.30 0a1.15 1.15 0 1 0 -2.30 0M307.9 401.1m-1.15 0a1.15 1.15 0 1 0 2.30 0a1.15 1.15 0 1 0 -2.30 0M309.6 403.5m-1.15 0a1.15 1.15 0 1 0 2.30 0a1.15 1.15 0 1 0 -2.30 0M311.3 406.8m-1.15 0a1.15 1.15 0 1 0 2.30 0a1.15 1.15 0 1 0 -2.30 0"/>
<rect x="49.5" y="285.5" width="274.0" height="162.9" fill="none" stroke="#787878" stroke-width="1"/>
<text x="47.70" y="441.96" font-family="Liberation Serif" font-size="9.85" fill="#141414" text-anchor="end" >1.0</text>
<text x="47.70" y="421.46" font-family="Liberation Serif" font-size="9.85" fill="#141414" text-anchor="end" >1.5</text>
<text x="47.70" y="400.96" font-family="Liberation Serif" font-size="9.85" fill="#141414" text-anchor="end" >2.0</text>
<text x="47.70" y="380.46" font-family="Liberation Serif" font-size="9.85" fill="#141414" text-anchor="end" >2.5</text>
<text x="47.70" y="359.96" font-family="Liberation Serif" font-size="9.85" fill="#141414" text-anchor="end" >3.0</text>
<text x="47.70" y="339.46" font-family="Liberation Serif" font-size="9.85" fill="#141414" text-anchor="end" >3.5</text>
<text x="47.70" y="318.96" font-family="Liberation Serif" font-size="9.85" fill="#141414" text-anchor="end" >4.0</text>
<text x="47.70" y="298.46" font-family="Liberation Serif" font-size="9.85" fill="#141414" text-anchor="end" >4.5</text>
<text x="61.50" y="457.49" font-family="Liberation Serif" font-size="9.85" fill="#141414" text-anchor="middle" >2022-09-12 18:00:00</text>
<text x="187.00" y="457.49" font-family="Liberation Serif" font-size="9.85" fill="#141414" text-anchor="middle" >2022-09-15 20:00:00</text>
<text x="312.50" y="457.49" font-family="Liberation Serif" font-size="9.85" fill="#141414" text-anchor="middle" >2022-09-18 22:00:00</text>
<path d="M49.5 439.3h1.8M49.5 418.8h1.8M49.5 398.3h1.8M49.5 377.8h1.8M49.5 357.3h1.8M49.5 336.8h1.8M49.5 316.3h1.8M49.5 295.8h1.8M61.5 448.4v-1.8M187.0 448.4v-1.8M312.5 448.4v-1.8" stroke="#787878" stroke-width="0.8" fill="none"/>
<text x="142.40" y="282.60" font-family="'Liberation Serif','Noto Serif CJK SC',serif" font-size="9.80" fill="#2c2c2c">2022年12号台风梅花</text>
<text x="176.70" y="469.00" font-family="'Liberation Serif','Noto Serif CJK SC',serif" font-size="9.80" fill="#141414">日期</text>
<g transform="rotate(-90 31.5 366.9)"><text x="21.70" y="366.95" font-family="'Liberation Serif','Noto Serif CJK SC',serif" font-size="9.80" fill="#141414">水位</text></g>
<rect x="254.0" y="290.0" width="65.0" height="31.0" rx="2" fill="#fff" fill-opacity="0.8" stroke="#d9d9d9" stroke-width="0.8"/>
<path d="M256.8 298.4H277.8" stroke="#0707c6" stroke-width="0.85"/>
<circle cx="267.3" cy="298.4" r="1.5" fill="#0707c6"/>
<path d="M256.8 312.5H277.8" stroke="#e2161c" stroke-width="0.85"/>
<circle cx="267.3" cy="312.5" r="1.0" fill="#e2161c"/>
<text x="286.00" y="301.90" font-family="'Liberation Serif','Noto Serif CJK SC',serif" font-size="9.60" fill="#3a3a3a">实测值</text>
<text x="286.00" y="316.00" font-family="'Liberation Serif','Noto Serif CJK SC',serif" font-size="9.60" fill="#3a3a3a">预测值</text>
<text x="70.50" y="301.90" font-family="Liberation Sans" font-size="17.50" fill="#111" text-anchor="middle" textLength="20.8" lengthAdjust="spacingAndGlyphs">(a)</text>
</g>
<g>
<polyline fill="none" stroke="#0707c6" stroke-width="0.85" stroke-linejoin="round" points="414.2,390.9 416.2,379.1 418.3,370.2 420.3,365.7 422.3,369.0 424.4,370.9 426.4,371.5 428.4,368.1 430.5,362.1 432.5,351.6 434.5,339.2 436.5,326.4 438.6,313.0 440.6,302.3 442.6,295.4 444.7,291.8 446.7,291.2 448.7,293.2 450.8,296.2 452.8,299.8 454.8,303.4 456.9,307.2 458.9,310.6 460.9,314.3 463.0,317.8 465.0,321.5 467.0,324.9 469.0,328.6 471.1,331.8 473.1,335.3 475.1,338.2 477.2,341.2 479.2,344.0 481.2,346.9 483.3,349.6 485.3,352.1 487.3,354.3 489.4,356.1 491.4,357.1 493.4,357.4 495.5,356.1 497.5,355.6 499.5,356.6 501.6,358.3 503.6,360.8 505.6,363.6 507.6,365.9 509.7,368.4 511.7,370.6 513.7,372.5 515.8,374.0 517.8,375.2 519.8,376.4 521.9,377.6 523.9,378.9 525.9,381.0 528.0,384.2 530.0,388.1 532.0,392.0 534.1,395.4 536.1,398.4 538.1,400.9 540.1,401.0 542.2,398.3 544.2,393.2 546.2,386.7 548.3,380.1 550.3,374.9 552.3,374.2 554.4,378.2 556.4,384.2 558.4,390.3 560.5,395.9 562.5,400.6 564.5,404.9 566.6,408.0 568.6,409.4 570.6,408.4 572.7,405.4 574.7,402.6 576.7,401.8 578.7,403.3 580.8,406.2 582.8,409.8 584.8,413.5 586.9,417.1 588.9,421.6 590.9,425.5 593.0,421.8 595.0,410.8 597.0,401.2 599.1,391.7 601.1,383.3 603.1,378.2 605.2,379.1 607.2,384.7 609.2,392.1 611.3,400.5 613.3,408.9 615.3,416.6 617.3,422.3 619.4,423.4 621.4,420.0 623.4,414.6 625.5,408.9 627.5,404.4 629.5,403.7 631.6,406.3 633.6,409.9 635.6,414.4 637.7,418.8 639.7,423.0 641.7,428.2 643.8,426.1 645.8,417.1 647.8,407.4 649.8,396.6 651.9,385.9 653.9,379.2 655.9,380.1 658.0,386.2 660.0,394.9 662.0,404.3 664.1,414.7 666.1,418.9"/>
<path fill="#0707c6" d="M414.2 390.9m-1.45 0a1.45 1.45 0 1 0 2.90 0a1.45 1.45 0 1 0 -2.90 0M416.2 379.1m-1.45 0a1.45 1.45 0 1 0 2.90 0a1.45 1.45 0 1 0 -2.90 0M418.3 370.2m-1.45 0a1.45 1.45 0 1 0 2.90 0a1.45 1.45 0 1 0 -2.90 0M420.3 365.7m-1.45 0a1.45 1.45 0 1 0 2.90 0a1.45 1.45 0 1 0 -2.90 0M422.3 369.0m-1.45 0a1.45 1.45 0 1 0 2.90 0a1.45 1.45 0 1 0 -2.90 0M424.4 370.9m-1.45 0a1.45 1.45 0 1 0 2.90 0a1.45 1.45 0 1 0 -2.90 0M426.4 371.5m-1.45 0a1.45 1.45 0 1 0 2.90 0a1.45 1.45 0 1 0 -2.90 0M428.4 368.1m-1.45 0a1.45 1.45 0 1 0 2.90 0a1.45 1.45 0 1 0 -2.90 0M430.5 362.1m-1.45 0a1.45 1.45 0 1 0 2.90 0a1.45 1.45 0 1 0 -2.90 0M432.5 351.6m-1.45 0a1.45 1.45 0 1 0 2.90 0a1.45 1.45 0 1 0 -2.90 0M434.5 339.2m-1.45 0a1.45 1.45 0 1 0 2.90 0a1.45 1.45 0 1 0 -2.90 0M436.5 326.4m-1.45 0a1.45 1.45 0 1 0 2.90 0a1.45 1.45 0 1 0 -2.90 0M438.6 313.0m-1.45 0a1.45 1.45 0 1 0 2.90 0a1.45 1.45 0 1 0 -2.90 0M440.6 302.3m-1.45 0a1.45 1.45 0 1 0 2.90 0a1.45 1.45 0 1 0 -2.90 0M442.6 295.4m-1.45 0a1.45 1.45 0 1 0 2.90 0a1.45 1.45 0 1 0 -2.90 0M444.7 291.8m-1.45 0a1.45 1.45 0 1 0 2.90 0a1.45 1.45 0 1 0 -2.90 0M446.7 291.2m-1.45 0a1.45 1.45 0 1 0 2.90 0a1.45 1.45 0 1 0 -2.90 0M448.7 293.2m-1.45 0a1.45 1.45 0 1 0 2.90 0a1.45 1.45 0 1 0 -2.90 0M450.8 296.2m-1.45 0a1.45 1.45 0 1 0 2.90 0a1.45 1.45 0 1 0 -2.90 0M452.8 299.8m-1.45 0a1.45 1.45 0 1 0 2.90 0a1.45 1.45 0 1 0 -2.90 0M454.8 303.4m-1.45 0a1.45 1.45 0 1 0 2.90 0a1.45 1.45 0 1 0 -2.90 0M456.9 307.2m-1.45 0a1.45 1.45 0 1 0 2.90 0a1.45 1.45 0 1 0 -2.90 0M458.9 310.6m-1.45 0a1.45 1.45 0 1 0 2.90 0a1.45 1.45 0 1 0 -2.90 0M460.9 314.3m-1.45 0a1.45 1.45 0 1 0 2.90 0a1.45 1.45 0 1 0 -2.90 0M463.0 317.8m-1.45 0a1.45 1.45 0 1 0 2.90 0a1.45 1.45 0 1 0 -2.90 0M465.0 321.5m-1.45 0a1.45 1.45 0 1 0 2.90 0a1.45 1.45 0 1 0 -2.90 0M467.0 324.9m-1.45 0a1.45 1.45 0 1 0 2.90 0a1.45 1.45 0 1 0 -2.90 0M469.0 328.6m-1.45 0a1.45 1.45 0 1 0 2.90 0a1.45 1.45 0 1 0 -2.90 0M471.1 331.8m-1.45 0a1.45 1.45 0 1 0 2.90 0a1.45 1.45 0 1 0 -2.90 0M473.1 335.3m-1.45 0a1.45 1.45 0 1 0 2.90 0a1.45 1.45 0 1 0 -2.90 0M475.1 338.2m-1.45 0a1.45 1.45 0 1 0 2.90 0a1.45 1.45 0 1 0 -2.90 0M477.2 341.2m-1.45 0a1.45 1.45 0 1 0 2.90 0a1.45 1.45 0 1 0 -2.90 0M479.2 344.0m-1.45 0a1.45 1.45 0 1 0 2.90 0a1.45 1.45 0 1 0 -2.90 0M481.2 346.9m-1.45 0a1.45 1.45 0 1 0 2.90 0a1.45 1.45 0 1 0 -2.90 0M483.3 349.6m-1.45 0a1.45 1.45 0 1 0 2.90 0a1.45 1.45 0 1 0 -2.90 0M485.3 352.1m-1.45 0a1.45 1.45 0 1 0 2.90 0a1.45 1.45 0 1 0 -2.90 0M487.3 354.3m-1.45 0a1.45 1.45 0 1 0 2.90 0a1.45 1.45 0 1 0 -2.90 0M489.4 356.1m-1.45 0a1.45 1.45 0 1 0 2.90 0a1.45 1.45 0 1 0 -2.90 0M491.4 357.1m-1.45 0a1.45 1.45 0 1 0 2.90 0a1.45 1.45 0 1 0 -2.90 0M493.4 357.4m-1.45 0a1.45 1.45 0 1 0 2.90 0a1.45 1.45 0 1 0 -2.90 0M495.5 356.1m-1.45 0a1.45 1.45 0 1 0 2.90 0a1.45 1.45 0 1 0 -2.90 0M497.5 355.6m-1.45 0a1.45 1.45 0 1 0 2.90 0a1.45 1.45 0 1 0 -2.90 0M499.5 356.6m-1.45 0a1.45 1.45 0 1 0 2.90 0a1.45 1.45 0 1 0 -2.90 0M501.6 358.3m-1.45 0a1.45 1.45 0 1 0 2.90 0a1.45 1.45 0 1 0 -2.90 0M503.6 360.8m-1.45 0a1.45 1.45 0 1 0 2.90 0a1.45 1.45 0 1 0 -2.90 0M505.6 363.6m-1.45 0a1.45 1.45 0 1 0 2.90 0a1.45 1.45 0 1 0 -2.90 0M507.6 365.9m-1.45 0a1.45 1.45 0 1 0 2.90 0a1.45 1.45 0 1 0 -2.90 0M509.7 368.4m-1.45 0a1.45 1.45 0 1 0 2.90 0a1.45 1.45 0 1 0 -2.90 0M511.7 370.6m-1.45 0a1.45 1.45 0 1 0 2.90 0a1.45 1.45 0 1 0 -2.90 0M513.7 372.5m-1.45 0a1.45 1.45 0 1 0 2.90 0a1.45 1.45 0 1 0 -2.90 0M515.8 374.0m-1.45 0a1.45 1.45 0 1 0 2.90 0a1.45 1.45 0 1 0 -2.90 0M517.8 375.2m-1.45 0a1.45 1.45 0 1 0 2.90 0a1.45 1.45 0 1 0 -2.90 0M519.8 376.4m-1.45 0a1.45 1.45 0 1 0 2.90 0a1.45 1.45 0 1 0 -2.90 0M521.9 377.6m-1.45 0a1.45 1.45 0 1 0 2.90 0a1.45 1.45 0 1 0 -2.90 0M523.9 378.9m-1.45 0a1.45 1.45 0 1 0 2.90 0a1.45 1.45 0 1 0 -2.90 0M525.9 381.0m-1.45 0a1.45 1.45 0 1 0 2.90 0a1.45 1.45 0 1 0 -2.90 0M528.0 384.2m-1.45 0a1.45 1.45 0 1 0 2.90 0a1.45 1.45 0 1 0 -2.90 0M530.0 388.1m-1.45 0a1.45 1.45 0 1 0 2.90 0a1.45 1.45 0 1 0 -2.90 0M532.0 392.0m-1.45 0a1.45 1.45 0 1 0 2.90 0a1.45 1.45 0 1 0 -2.90 0M534.1 395.4m-1.45 0a1.45 1.45 0 1 0 2.90 0a1.45 1.45 0 1 0 -2.90 0M536.1 398.4m-1.45 0a1.45 1.45 0 1 0 2.90 0a1.45 1.45 0 1 0 -2.90 0M538.1 400.9m-1.45 0a1.45 1.45 0 1 0 2.90 0a1.45 1.45 0 1 0 -2.90 0M540.1 401.0m-1.45 0a1.45 1.45 0 1 0 2.90 0a1.45 1.45 0 1 0 -2.90 0M542.2 398.3m-1.45 0a1.45 1.45 0 1 0 2.90 0a1.45 1.45 0 1 0 -2.90 0M544.2 393.2m-1.45 0a1.45 1.45 0 1 0 2.90 0a1.45 1.45 0 1 0 -2.90 0M546.2 386.7m-1.45 0a1.45 1.45 0 1 0 2.90 0a1.45 1.45 0 1 0 -2.90 0M548.3 380.1m-1.45 0a1.45 1.45 0 1 0 2.90 0a1.45 1.45 0 1 0 -2.90 0M550.3 374.9m-1.45 0a1.45 1.45 0 1 0 2.90 0a1.45 1.45 0 1 0 -2.90 0M552.3 374.2m-1.45 0a1.45 1.45 0 1 0 2.90 0a1.45 1.45 0 1 0 -2.90 0M554.4 378.2m-1.45 0a1.45 1.45 0 1 0 2.90 0a1.45 1.45 0 1 0 -2.90 0M556.4 384.2m-1.45 0a1.45 1.45 0 1 0 2.90 0a1.45 1.45 0 1 0 -2.90 0M558.4 390.3m-1.45 0a1.45 1.45 0 1 0 2.90 0a1.45 1.45 0 1 0 -2.90 0M560.5 395.9m-1.45 0a1.45 1.45 0 1 0 2.90 0a1.45 1.45 0 1 0 -2.90 0M562.5 400.6m-1.45 0a1.45 1.45 0 1 0 2.90 0a1.45 1.45 0 1 0 -2.90 0M564.5 404.9m-1.45 0a1.45 1.45 0 1 0 2.90 0a1.45 1.45 0 1 0 -2.90 0M566.6 408.0m-1.45 0a1.45 1.45 0 1 0 2.90 0a1.45 1.45 0 1 0 -2.90 0M568.6 409.4m-1.45 0a1.45 1.45 0 1 0 2.90 0a1.45 1.45 0 1 0 -2.90 0M570.6 408.4m-1.45 0a1.45 1.45 0 1 0 2.90 0a1.45 1.45 0 1 0 -2.90 0M572.7 405.4m-1.45 0a1.45 1.45 0 1 0 2.90 0a1.45 1.45 0 1 0 -2.90 0M574.7 402.6m-1.45 0a1.45 1.45 0 1 0 2.90 0a1.45 1.45 0 1 0 -2.90 0M576.7 401.8m-1.45 0a1.45 1.45 0 1 0 2.90 0a1.45 1.45 0 1 0 -2.90 0M578.7 403.3m-1.45 0a1.45 1.45 0 1 0 2.90 0a1.45 1.45 0 1 0 -2.90 0M580.8 406.2m-1.45 0a1.45 1.45 0 1 0 2.90 0a1.45 1.45 0 1 0 -2.90 0M582.8 409.8m-1.45 0a1.45 1.45 0 1 0 2.90 0a1.45 1.45 0 1 0 -2.90 0M584.8 413.5m-1.45 0a1.45 1.45 0 1 0 2.90 0a1.45 1.45 0 1 0 -2.90 0M586.9 417.1m-1.45 0a1.45 1.45 0 1 0 2.90 0a1.45 1.45 0 1 0 -2.90 0M588.9 421.6m-1.45 0a1.45 1.45 0 1 0 2.90 0a1.45 1.45 0 1 0 -2.90 0M590.9 425.5m-1.45 0a1.45 1.45 0 1 0 2.90 0a1.45 1.45 0 1 0 -2.90 0M593.0 421.8m-1.45 0a1.45 1.45 0 1 0 2.90 0a1.45 1.45 0 1 0 -2.90 0M595.0 410.8m-1.45 0a1.45 1.45 0 1 0 2.90 0a1.45 1.45 0 1 0 -2.90 0M597.0 401.2m-1.45 0a1.45 1.45 0 1 0 2.90 0a1.45 1.45 0 1 0 -2.90 0M599.1 391.7m-1.45 0a1.45 1.45 0 1 0 2.90 0a1.45 1.45 0 1 0 -2.90 0M601.1 383.3m-1.45 0a1.45 1.45 0 1 0 2.90 0a1.45 1.45 0 1 0 -2.90 0M603.1 378.2m-1.45 0a1.45 1.45 0 1 0 2.90 0a1.45 1.45 0 1 0 -2.90 0M605.2 379.1m-1.45 0a1.45 1.45 0 1 0 2.90 0a1.45 1.45 0 1 0 -2.90 0M607.2 384.7m-1.45 0a1.45 1.45 0 1 0 2.90 0a1.45 1.45 0 1 0 -2.90 0M609.2 392.1m-1.45 0a1.45 1.45 0 1 0 2.90 0a1.45 1.45 0 1 0 -2.90 0M611.3 400.5m-1.45 0a1.45 1.45 0 1 0 2.90 0a1.45 1.45 0 1 0 -2.90 0M613.3 408.9m-1.45 0a1.45 1.45 0 1 0 2.90 0a1.45 1.45 0 1 0 -2.90 0M615.3 416.6m-1.45 0a1.45 1.45 0 1 0 2.90 0a1.45 1.45 0 1 0 -2.90 0M617.3 422.3m-1.45 0a1.45 1.45 0 1 0 2.90 0a1.45 1.45 0 1 0 -2.90 0M619.4 423.4m-1.45 0a1.45 1.45 0 1 0 2.90 0a1.45 1.45 0 1 0 -2.90 0M621.4 420.0m-1.45 0a1.45 1.45 0 1 0 2.90 0a1.45 1.45 0 1 0 -2.90 0M623.4 414.6m-1.45 0a1.45 1.45 0 1 0 2.90 0a1.45 1.45 0 1 0 -2.90 0M625.5 408.9m-1.45 0a1.45 1.45 0 1 0 2.90 0a1.45 1.45 0 1 0 -2.90 0M627.5 404.4m-1.45 0a1.45 1.45 0 1 0 2.90 0a1.45 1.45 0 1 0 -2.90 0M629.5 403.7m-1.45 0a1.45 1.45 0 1 0 2.90 0a1.45 1.45 0 1 0 -2.90 0M631.6 406.3m-1.45 0a1.45 1.45 0 1 0 2.90 0a1.45 1.45 0 1 0 -2.90 0M633.6 409.9m-1.45 0a1.45 1.45 0 1 0 2.90 0a1.45 1.45 0 1 0 -2.90 0M635.6 414.4m-1.45 0a1.45 1.45 0 1 0 2.90 0a1.45 1.45 0 1 0 -2.90 0M637.7 418.8m-1.45 0a1.45 1.45 0 1 0 2.90 0a1.45 1.45 0 1 0 -2.90 0M639.7 423.0m-1.45 0a1.45 1.45 0 1 0 2.90 0a1.45 1.45 0 1 0 -2.90 0M641.7 428.2m-1.45 0a1.45 1.45 0 1 0 2.90 0a1.45 1.45 0 1 0 -2.90 0M643.8 426.1m-1.45 0a1.45 1.45 0 1 0 2.90 0a1.45 1.45 0 1 0 -2.90 0M645.8 417.1m-1.45 0a1.45 1.45 0 1 0 2.90 0a1.45 1.45 0 1 0 -2.90 0M647.8 407.4m-1.45 0a1.45 1.45 0 1 0 2.90 0a1.45 1.45 0 1 0 -2.90 0M649.8 396.6m-1.45 0a1.45 1.45 0 1 0 2.90 0a1.45 1.45 0 1 0 -2.90 0M651.9 385.9m-1.45 0a1.45 1.45 0 1 0 2.90 0a1.45 1.45 0 1 0 -2.90 0M653.9 379.2m-1.45 0a1.45 1.45 0 1 0 2.90 0a1.45 1.45 0 1 0 -2.90 0M655.9 380.1m-1.45 0a1.45 1.45 0 1 0 2.90 0a1.45 1.45 0 1 0 -2.90 0M658.0 386.2m-1.45 0a1.45 1.45 0 1 0 2.90 0a1.45 1.45 0 1 0 -2.90 0M660.0 394.9m-1.45 0a1.45 1.45 0 1 0 2.90 0a1.45 1.45 0 1 0 -2.90 0M662.0 404.3m-1.45 0a1.45 1.45 0 1 0 2.90 0a1.45 1.45 0 1 0 -2.90 0M664.1 414.7m-1.45 0a1.45 1.45 0 1 0 2.90 0a1.45 1.45 0 1 0 -2.90 0M666.1 418.9m-1.45 0a1.45 1.45 0 1 0 2.90 0a1.45 1.45 0 1 0 -2.90 0"/>
<polyline fill="none" stroke="#e2161c" stroke-width="0.85" stroke-linejoin="round" points="414.2,389.9 416.2,381.3 418.3,375.1 420.3,371.9 422.3,371.4 424.4,373.4 426.4,374.7 428.4,371.6 430.5,364.6 432.5,355.4 434.5,343.7 436.5,328.8 438.6,315.3 440.6,303.5 442.6,296.9 444.7,292.3 446.7,290.0 448.7,291.5 450.8,294.4 452.8,298.2 454.8,302.0 456.9,306.0 458.9,309.4 460.9,313.1 463.0,316.6 465.0,320.3 467.0,323.8 469.0,327.5 471.1,330.9 473.1,334.6 475.1,337.8 477.2,340.9 479.2,343.7 481.2,346.2 483.3,347.6 485.3,348.3 487.3,349.0 489.4,350.8 491.4,352.5 493.4,353.6 495.5,354.1 497.5,354.3 499.5,354.9 501.6,356.4 503.6,359.0 505.6,362.7 507.6,366.0 509.7,369.0 511.7,371.9 513.7,374.0 515.8,375.3 517.8,377.1 519.8,378.7 521.9,380.0 523.9,381.1 525.9,382.7 528.0,385.0 530.0,387.5 532.0,389.8 534.1,392.3 536.1,395.0 538.1,398.2 540.1,399.5 542.2,397.1 544.2,392.0 546.2,386.0 548.3,380.5 550.3,377.1 552.3,377.0 554.4,379.1 556.4,384.4 558.4,390.2 560.5,395.4 562.5,399.9 564.5,403.6 566.6,406.0 568.6,407.2 570.6,406.8 572.7,405.0 574.7,403.7 576.7,404.3 578.7,406.6 580.8,410.1 582.8,414.3 584.8,419.2 586.9,424.6 588.9,428.1 590.9,427.3 593.0,419.8 595.0,410.2 597.0,401.8 599.1,392.9 601.1,385.0 603.1,381.8 605.2,384.1 607.2,389.7 609.2,395.7 611.3,402.3 613.3,410.1 615.3,417.8 617.3,423.4 619.4,424.8 621.4,422.8 623.4,418.8 625.5,414.4 627.5,411.4 629.5,411.9 631.6,415.6 633.6,420.3 635.6,425.8 637.7,431.7 639.7,437.3 641.7,438.0 643.8,431.3 645.8,420.5 647.8,409.1 649.8,397.8 651.9,387.1 653.9,382.2 655.9,383.2 658.0,388.6 660.0,397.3 662.0,407.4 664.1,419.3 666.1,424.1"/>
<path fill="#e2161c" d="M414.2 389.9m-1.15 0a1.15 1.15 0 1 0 2.30 0a1.15 1.15 0 1 0 -2.30 0M416.2 381.3m-1.15 0a1.15 1.15 0 1 0 2.30 0a1.15 1.15 0 1 0 -2.30 0M418.3 375.1m-1.15 0a1.15 1.15 0 1 0 2.30 0a1.15 1.15 0 1 0 -2.30 0M420.3 371.9m-1.15 0a1.15 1.15 0 1 0 2.30 0a1.15 1.15 0 1 0 -2.30 0M422.3 371.4m-1.15 0a1.15 1.15 0 1 0 2.30 0a1.15 1.15 0 1 0 -2.30 0M424.4 373.4m-1.15 0a1.15 1.15 0 1 0 2.30 0a1.15 1.15 0 1 0 -2.30 0M426.4 374.7m-1.15 0a1.15 1.15 0 1 0 2.30 0a1.15 1.15 0 1 0 -2.30 0M428.4 371.6m-1.15 0a1.15 1.15 0 1 0 2.30 0a1.15 1.15 0 1 0 -2.30 0M430.5 364.6m-1.15 0a1.15 1.15 0 1 0 2.30 0a1.15 1.15 0 1 0 -2.30 0M432.5 355.4m-1.15 0a1.15 1.15 0 1 0 2.30 0a1.15 1.15 0 1 0 -2.30 0M434.5 343.7m-1.15 0a1.15 1.15 0 1 0 2.30 0a1.15 1.15 0 1 0 -2.30 0M436.5 328.8m-1.15 0a1.15 1.15 0 1 0 2.30 0a1.15 1.15 0 1 0 -2.30 0M438.6 315.3m-1.15 0a1.15 1.15 0 1 0 2.30 0a1.15 1.15 0 1 0 -2.30 0M440.6 303.5m-1.15 0a1.15 1.15 0 1 0 2.30 0a1.15 1.15 0 1 0 -2.30 0M442.6 296.9m-1.15 0a1.15 1.15 0 1 0 2.30 0a1.15 1.15 0 1 0 -2.30 0M444.7 292.3m-1.15 0a1.15 1.15 0 1 0 2.30 0a1.15 1.15 0 1 0 -2.30 0M446.7 290.0m-1.15 0a1.15 1.15 0 1 0 2.30 0a1.15 1.15 0 1 0 -2.30 0M448.7 291.5m-1.15 0a1.15 1.15 0 1 0 2.30 0a1.15 1.15 0 1 0 -2.30 0M450.8 294.4m-1.15 0a1.15 1.15 0 1 0 2.30 0a1.15 1.15 0 1 0 -2.30 0M452.8 298.2m-1.15 0a1.15 1.15 0 1 0 2.30 0a1.15 1.15 0 1 0 -2.30 0M454.8 302.0m-1.15 0a1.15 1.15 0 1 0 2.30 0a1.15 1.15 0 1 0 -2.30 0M456.9 306.0m-1.15 0a1.15 1.15 0 1 0 2.30 0a1.15 1.15 0 1 0 -2.30 0M458.9 309.4m-1.15 0a1.15 1.15 0 1 0 2.30 0a1.15 1.15 0 1 0 -2.30 0M460.9 313.1m-1.15 0a1.15 1.15 0 1 0 2.30 0a1.15 1.15 0 1 0 -2.30 0M463.0 316.6m-1.15 0a1.15 1.15 0 1 0 2.30 0a1.15 1.15 0 1 0 -2.30 0M465.0 320.3m-1.15 0a1.15 1.15 0 1 0 2.30 0a1.15 1.15 0 1 0 -2.30 0M467.0 323.8m-1.15 0a1.15 1.15 0 1 0 2.30 0a1.15 1.15 0 1 0 -2.30 0M469.0 327.5m-1.15 0a1.15 1.15 0 1 0 2.30 0a1.15 1.15 0 1 0 -2.30 0M471.1 330.9m-1.15 0a1.15 1.15 0 1 0 2.30 0a1.15 1.15 0 1 0 -2.30 0M473.1 334.6m-1.15 0a1.15 1.15 0 1 0 2.30 0a1.15 1.15 0 1 0 -2.30 0M475.1 337.8m-1.15 0a1.15 1.15 0 1 0 2.30 0a1.15 1.15 0 1 0 -2.30 0M477.2 340.9m-1.15 0a1.15 1.15 0 1 0 2.30 0a1.15 1.15 0 1 0 -2.30 0M479.2 343.7m-1.15 0a1.15 1.15 0 1 0 2.30 0a1.15 1.15 0 1 0 -2.30 0M481.2 346.2m-1.15 0a1.15 1.15 0 1 0 2.30 0a1.15 1.15 0 1 0 -2.30 0M483.3 347.6m-1.15 0a1.15 1.15 0 1 0 2.30 0a1.15 1.15 0 1 0 -2.30 0M485.3 348.3m-1.15 0a1.15 1.15 0 1 0 2.30 0a1.15 1.15 0 1 0 -2.30 0M487.3 349.0m-1.15 0a1.15 1.15 0 1 0 2.30 0a1.15 1.15 0 1 0 -2.30 0M489.4 350.8m-1.15 0a1.15 1.15 0 1 0 2.30 0a1.15 1.15 0 1 0 -2.30 0M491.4 352.5m-1.15 0a1.15 1.15 0 1 0 2.30 0a1.15 1.15 0 1 0 -2.30 0M493.4 353.6m-1.15 0a1.15 1.15 0 1 0 2.30 0a1.15 1.15 0 1 0 -2.30 0M495.5 354.1m-1.15 0a1.15 1.15 0 1 0 2.30 0a1.15 1.15 0 1 0 -2.30 0M497.5 354.3m-1.15 0a1.15 1.15 0 1 0 2.30 0a1.15 1.15 0 1 0 -2.30 0M499.5 354.9m-1.15 0a1.15 1.15 0 1 0 2.30 0a1.15 1.15 0 1 0 -2.30 0M501.6 356.4m-1.15 0a1.15 1.15 0 1 0 2.30 0a1.15 1.15 0 1 0 -2.30 0M503.6 359.0m-1.15 0a1.15 1.15 0 1 0 2.30 0a1.15 1.15 0 1 0 -2.30 0M505.6 362.7m-1.15 0a1.15 1.15 0 1 0 2.30 0a1.15 1.15 0 1 0 -2.30 0M507.6 366.0m-1.15 0a1.15 1.15 0 1 0 2.30 0a1.15 1.15 0 1 0 -2.30 0M509.7 369.0m-1.15 0a1.15 1.15 0 1 0 2.30 0a1.15 1.15 0 1 0 -2.30 0M511.7 371.9m-1.15 0a1.15 1.15 0 1 0 2.30 0a1.15 1.15 0 1 0 -2.30 0M513.7 374.0m-1.15 0a1.15 1.15 0 1 0 2.30 0a1.15 1.15 0 1 0 -2.30 0M515.8 375.3m-1.15 0a1.15 1.15 0 1 0 2.30 0a1.15 1.15 0 1 0 -2.30 0M517.8 377.1m-1.15 0a1.15 1.15 0 1 0 2.30 0a1.15 1.15 0 1 0 -2.30 0M519.8 378.7m-1.15 0a1.15 1.15 0 1 0 2.30 0a1.15 1.15 0 1 0 -2.30 0M521.9 380.0m-1.15 0a1.15 1.15 0 1 0 2.30 0a1.15 1.15 0 1 0 -2.30 0M523.9 381.1m-1.15 0a1.15 1.15 0 1 0 2.30 0a1.15 1.15 0 1 0 -2.30 0M525.9 382.7m-1.15 0a1.15 1.15 0 1 0 2.30 0a1.15 1.15 0 1 0 -2.30 0M528.0 385.0m-1.15 0a1.15 1.15 0 1 0 2.30 0a1.15 1.15 0 1 0 -2.30 0M530.0 387.5m-1.15 0a1.15 1.15 0 1 0 2.30 0a1.15 1.15 0 1 0 -2.30 0M532.0 389.8m-1.15 0a1.15 1.15 0 1 0 2.30 0a1.15 1.15 0 1 0 -2.30 0M534.1 392.3m-1.15 0a1.15 1.15 0 1 0 2.30 0a1.15 1.15 0 1 0 -2.30 0M536.1 395.0m-1.15 0a1.15 1.15 0 1 0 2.30 0a1.15 1.15 0 1 0 -2.30 0M538.1 398.2m-1.15 0a1.15 1.15 0 1 0 2.30 0a1.15 1.15 0 1 0 -2.30 0M540.1 399.5m-1.15 0a1.15 1.15 0 1 0 2.30 0a1.15 1.15 0 1 0 -2.30 0M542.2 397.1m-1.15 0a1.15 1.15 0 1 0 2.30 0a1.15 1.15 0 1 0 -2.30 0M544.2 392.0m-1.15 0a1.15 1.15 0 1 0 2.30 0a1.15 1.15 0 1 0 -2.30 0M546.2 386.0m-1.15 0a1.15 1.15 0 1 0 2.30 0a1.15 1.15 0 1 0 -2.30 0M548.3 380.5m-1.15 0a1.15 1.15 0 1 0 2.30 0a1.15 1.15 0 1 0 -2.30 0M550.3 377.1m-1.15 0a1.15 1.15 0 1 0 2.30 0a1.15 1.15 0 1 0 -2.30 0M552.3 377.0m-1.15 0a1.15 1.15 0 1 0 2.30 0a1.15 1.15 0 1 0 -2.30 0M554.4 379.1m-1.15 0a1.15 1.15 0 1 0 2.30 0a1.15 1.15 0 1 0 -2.30 0M556.4 384.4m-1.15 0a1.15 1.15 0 1 0 2.30 0a1.15 1.15 0 1 0 -2.30 0M558.4 390.2m-1.15 0a1.15 1.15 0 1 0 2.30 0a1.15 1.15 0 1 0 -2.30 0M560.5 395.4m-1.15 0a1.15 1.15 0 1 0 2.30 0a1.15 1.15 0 1 0 -2.30 0M562.5 399.9m-1.15 0a1.15 1.15 0 1 0 2.30 0a1.15 1.15 0 1 0 -2.30 0M564.5 403.6m-1.15 0a1.15 1.15 0 1 0 2.30 0a1.15 1.15 0 1 0 -2.30 0M566.6 406.0m-1.15 0a1.15 1.15 0 1 0 2.30 0a1.15 1.15 0 1 0 -2.30 0M568.6 407.2m-1.15 0a1.15 1.15 0 1 0 2.30 0a1.15 1.15 0 1 0 -2.30 0M570.6 406.8m-1.15 0a1.15 1.15 0 1 0 2.30 0a1.15 1.15 0 1 0 -2.30 0M572.7 405.0m-1.15 0a1.15 1.15 0 1 0 2.30 0a1.15 1.15 0 1 0 -2.30 0M574.7 403.7m-1.15 0a1.15 1.15 0 1 0 2.30 0a1.15 1.15 0 1 0 -2.30 0M576.7 404.3m-1.15 0a1.15 1.15 0 1 0 2.30 0a1.15 1.15 0 1 0 -2.30 0M578.7 406.6m-1.15 0a1.15 1.15 0 1 0 2.30 0a1.15 1.15 0 1 0 -2.30 0M580.8 410.1m-1.15 0a1.15 1.15 0 1 0 2.30 0a1.15 1.15 0 1 0 -2.30 0M582.8 414.3m-1.15 0a1.15 1.15 0 1 0 2.30 0a1.15 1.15 0 1 0 -2.30 0M584.8 419.2m-1.15 0a1.15 1.15 0 1 0 2.30 0a1.15 1.15 0 1 0 -2.30 0M586.9 424.6m-1.15 0a1.15 1.15 0 1 0 2.30 0a1.15 1.15 0 1 0 -2.30 0M588.9 428.1m-1.15 0a1.15 1.15 0 1 0 2.30 0a1.15 1.15 0 1 0 -2.30 0M590.9 427.3m-1.15 0a1.15 1.15 0 1 0 2.30 0a1.15 1.15 0 1 0 -2.30 0M593.0 419.8m-1.15 0a1.15 1.15 0 1 0 2.30 0a1.15 1.15 0 1 0 -2.30 0M595.0 410.2m-1.15 0a1.15 1.15 0 1 0 2.30 0a1.15 1.15 0 1 0 -2.30 0M597.0 401.8m-1.15 0a1.15 1.15 0 1 0 2.30 0a1.15 1.15 0 1 0 -2.30 0M599.1 392.9m-1.15 0a1.15 1.15 0 1 0 2.30 0a1.15 1.15 0 1 0 -2.30 0M601.1 385.0m-1.15 0a1.15 1.15 0 1 0 2.30 0a1.15 1.15 0 1 0 -2.30 0M603.1 381.8m-1.15 0a1.15 1.15 0 1 0 2.30 0a1.15 1.15 0 1 0 -2.30 0M605.2 384.1m-1.15 0a1.15 1.15 0 1 0 2.30 0a1.15 1.15 0 1 0 -2.30 0M607.2 389.7m-1.15 0a1.15 1.15 0 1 0 2.30 0a1.15 1.15 0 1 0 -2.30 0M609.2 395.7m-1.15 0a1.15 1.15 0 1 0 2.30 0a1.15 1.15 0 1 0 -2.30 0M611.3 402.3m-1.15 0a1.15 1.15 0 1 0 2.30 0a1.15 1.15 0 1 0 -2.30 0M613.3 410.1m-1.15 0a1.15 1.15 0 1 0 2.30 0a1.15 1.15 0 1 0 -2.30 0M615.3 417.8m-1.15 0a1.15 1.15 0 1 0 2.30 0a1.15 1.15 0 1 0 -2.30 0M617.3 423.4m-1.15 0a1.15 1.15 0 1 0 2.30 0a1.15 1.15 0 1 0 -2.30 0M619.4 424.8m-1.15 0a1.15 1.15 0 1 0 2.30 0a1.15 1.15 0 1 0 -2.30 0M621.4 422.8m-1.15 0a1.15 1.15 0 1 0 2.30 0a1.15 1.15 0 1 0 -2.30 0M623.4 418.8m-1.15 0a1.15 1.15 0 1 0 2.30 0a1.15 1.15 0 1 0 -2.30 0M625.5 414.4m-1.15 0a1.15 1.15 0 1 0 2.30 0a1.15 1.15 0 1 0 -2.30 0M627.5 411.4m-1.15 0a1.15 1.15 0 1 0 2.30 0a1.15 1.15 0 1 0 -2.30 0M629.5 411.9m-1.15 0a1.15 1.15 0 1 0 2.30 0a1.15 1.15 0 1 0 -2.30 0M631.6 415.6m-1.15 0a1.15 1.15 0 1 0 2.30 0a1.15 1.15 0 1 0 -2.30 0M633.6 420.3m-1.15 0a1.15 1.15 0 1 0 2.30 0a1.15 1.15 0 1 0 -2.30 0M635.6 425.8m-1.15 0a1.15 1.15 0 1 0 2.30 0a1.15 1.15 0 1 0 -2.30 0M637.7 431.7m-1.15 0a1.15 1.15 0 1 0 2.30 0a1.15 1.15 0 1 0 -2.30 0M639.7 437.3m-1.15 0a1.15 1.15 0 1 0 2.30 0a1.15 1.15 0 1 0 -2.30 0M641.7 438.0m-1.15 0a1.15 1.15 0 1 0 2.30 0a1.15 1.15 0 1 0 -2.30 0M643.8 431.3m-1.15 0a1.15 1.15 0 1 0 2.30 0a1.15 1.15 0 1 0 -2.30 0M645.8 420.5m-1.15 0a1.15 1.15 0 1 0 2.30 0a1.15 1.15 0 1 0 -2.30 0M647.8 409.1m-1.15 0a1.15 1.15 0 1 0 2.30 0a1.15 1.15 0 1 0 -2.30 0M649.8 397.8m-1.15 0a1.15 1.15 0 1 0 2.30 0a1.15 1.15 0 1 0 -2.30 0M651.9 387.1m-1.15 0a1.15 1.15 0 1 0 2.30 0a1.15 1.15 0 1 0 -2.30 0M653.9 382.2m-1.15 0a1.15 1.15 0 1 0 2.30 0a1.15 1.15 0 1 0 -2.30 0M655.9 383.2m-1.15 0a1.15 1.15 0 1 0 2.30 0a1.15 1.15 0 1 0 -2.30 0M658.0 388.6m-1.15 0a1.15 1.15 0 1 0 2.30 0a1.15 1.15 0 1 0 -2.30 0M660.0 397.3m-1.15 0a1.15 1.15 0 1 0 2.30 0a1.15 1.15 0 1 0 -2.30 0M662.0 407.4m-1.15 0a1.15 1.15 0 1 0 2.30 0a1.15 1.15 0 1 0 -2.30 0M664.1 419.3m-1.15 0a1.15 1.15 0 1 0 2.30 0a1.15 1.15 0 1 0 -2.30 0M666.1 424.1m-1.15 0a1.15 1.15 0 1 0 2.30 0a1.15 1.15 0 1 0 -2.30 0"/>
<rect x="401.5" y="282.5" width="276.9" height="164.8" fill="none" stroke="#787878" stroke-width="1"/>
<text x="399.70" y="415.96" font-family="Liberation Serif" font-size="9.85" fill="#141414" text-anchor="end" >1</text>
<text x="399.70" y="376.01" font-family="Liberation Serif" font-size="9.85" fill="#141414" text-anchor="end" >2</text>
<text x="399.70" y="336.06" font-family="Liberation Serif" font-size="9.85" fill="#141414" text-anchor="end" >3</text>
<text x="399.70" y="296.11" font-family="Liberation Serif" font-size="9.85" fill="#141414" text-anchor="end" >4</text>
<text x="414.30" y="456.39" font-family="Liberation Serif" font-size="9.85" fill="#141414" text-anchor="middle" >2021-09-13 02:00:00</text>
<text x="540.75" y="456.39" font-family="Liberation Serif" font-size="9.85" fill="#141414" text-anchor="middle" >2021-09-15 16:00:00</text>
<text x="667.20" y="456.39" font-family="Liberation Serif" font-size="9.85" fill="#141414" text-anchor="middle" >2021-09-18 06:00:00</text>
<path d="M401.5 413.3h1.8M401.5 373.4h1.8M401.5 333.4h1.8M401.5 293.4h1.8M414.3 447.3v-1.8M540.8 447.3v-1.8M667.2 447.3v-1.8" stroke="#787878" stroke-width="0.8" fill="none"/>
<text x="495.85" y="280.00" font-family="'Liberation Serif','Noto Serif CJK SC',serif" font-size="9.80" fill="#2c2c2c">2021年14号台风灿都</text>
<text x="530.15" y="468.00" font-family="'Liberation Serif','Noto Serif CJK SC',serif" font-size="9.80" fill="#141414">日期</text>
<g transform="rotate(-90 391.3 364.9)"><text x="381.50" y="364.90" font-family="'Liberation Serif','Noto Serif CJK SC',serif" font-size="9.80" fill="#141414">水位</text></g>
<rect x="608.0" y="287.5" width="65.0" height="31.1" rx="2" fill="#fff" fill-opacity="0.8" stroke="#d9d9d9" stroke-width="0.8"/>
<path d="M611.3 295.9H631.7" stroke="#0707c6" stroke-width="0.85"/>
<circle cx="621.5" cy="295.9" r="1.5" fill="#0707c6"/>
<path d="M611.3 310.0H631.7" stroke="#e2161c" stroke-width="0.85"/>
<circle cx="621.5" cy="310.0" r="1.0" fill="#e2161c"/>
<text x="640.40" y="299.40" font-family="'Liberation Serif','Noto Serif CJK SC',serif" font-size="9.60" fill="#3a3a3a">实测值</text>
<text x="640.40" y="313.50" font-family="'Liberation Serif','Noto Serif CJK SC',serif" font-size="9.60" fill="#3a3a3a">预测值</text>
<text x="584.50" y="309.40" font-family="Liberation Sans" font-size="17.50" fill="#111" text-anchor="middle" textLength="22.0" lengthAdjust="spacingAndGlyphs">(b)</text>
</g>
<g>
<polyline fill="none" stroke="#0707c6" stroke-width="0.85" stroke-linejoin="round" points="58.2,653.2 59.9,653.1 61.6,647.4 63.3,627.0 65.0,612.2 66.7,593.2 68.5,584.0 70.2,583.6 71.9,591.4 73.6,602.0 75.3,610.6 77.0,620.2 78.7,627.4 80.4,631.9 82.1,633.5 83.8,632.8 85.5,626.5 87.3,615.4 89.0,604.0 90.7,608.4 92.4,612.2 94.1,613.9 95.8,615.1 97.5,616.3 99.2,617.1 100.9,618.0 102.6,618.0 104.4,612.8 106.1,601.7 107.8,579.1 109.5,563.7 111.2,558.1 112.9,563.3 114.6,569.4 116.3,573.7 118.0,578.6 119.7,582.6 121.4,585.5 123.2,587.1 124.9,587.6 126.6,586.1 128.3,581.2 130.0,575.9 131.7,569.2 133.4,568.7 135.1,569.1 136.8,569.3 138.5,568.8 140.2,570.3 142.0,569.3 143.7,568.7 145.4,569.6 147.1,566.2 148.8,558.1 150.5,541.0 152.2,524.9 153.9,521.8 155.6,523.4 157.3,524.2 159.0,524.3 160.8,522.6 162.5,520.1 164.2,517.2 165.9,514.3 167.6,511.9 169.3,510.0 171.0,508.3 172.7,507.5 174.4,508.1 176.1,510.1 177.9,512.6 179.6,515.6 181.3,519.0 183.0,522.4 184.7,525.2 186.4,527.2 188.1,528.8 189.8,529.8 191.5,530.5 193.2,529.9 194.9,528.0 196.7,527.3 198.4,529.7 200.1,531.8 201.8,533.7 203.5,535.4 205.2,537.1 206.9,538.0 208.6,538.9 210.3,539.3 212.0,539.3 213.7,538.7 215.5,536.9 217.2,535.1 218.9,534.1 220.6,534.1 222.3,534.6 224.0,534.9 225.7,535.5 227.4,536.6 229.1,537.1 230.8,537.8 232.5,537.8 234.3,537.2 236.0,534.9 237.7,532.4 239.4,531.7 241.1,532.0 242.8,533.1 244.5,534.9 246.2,537.1 247.9,539.3 249.6,541.0 251.4,542.6 253.1,544.1 254.8,545.5 256.5,547.1 258.2,548.7 259.9,550.3 261.6,551.8 263.3,553.1 265.0,553.9 266.7,554.6 268.4,554.9 270.2,555.0 271.9,554.6 273.6,553.8 275.3,552.6 277.0,551.2 278.7,548.9 280.4,547.8 282.1,550.4 283.8,554.1 285.5,557.4 287.2,560.3 289.0,563.1 290.7,566.0 292.4,568.6 294.1,571.4 295.8,573.6 297.5,575.5 299.2,576.9 300.9,578.0 302.6,579.6 304.3,581.3 306.0,583.1 307.8,585.1 309.5,587.0"/>
<path fill="#0707c6" d="M58.2 653.2m-1.45 0a1.45 1.45 0 1 0 2.90 0a1.45 1.45 0 1 0 -2.90 0M59.9 653.1m-1.45 0a1.45 1.45 0 1 0 2.90 0a1.45 1.45 0 1 0 -2.90 0M61.6 647.4m-1.45 0a1.45 1.45 0 1 0 2.90 0a1.45 1.45 0 1 0 -2.90 0M63.3 627.0m-1.45 0a1.45 1.45 0 1 0 2.90 0a1.45 1.45 0 1 0 -2.90 0M65.0 612.2m-1.45 0a1.45 1.45 0 1 0 2.90 0a1.45 1.45 0 1 0 -2.90 0M66.7 593.2m-1.45 0a1.45 1.45 0 1 0 2.90 0a1.45 1.45 0 1 0 -2.90 0M68.5 584.0m-1.45 0a1.45 1.45 0 1 0 2.90 0a1.45 1.45 0 1 0 -2.90 0M70.2 583.6m-1.45 0a1.45 1.45 0 1 0 2.90 0a1.45 1.45 0 1 0 -2.90 0M71.9 591.4m-1.45 0a1.45 1.45 0 1 0 2.90 0a1.45 1.45 0 1 0 -2.90 0M73.6 602.0m-1.45 0a1.45 1.45 0 1 0 2.90 0a1.45 1.45 0 1 0 -2.90 0M75.3 610.6m-1.45 0a1.45 1.45 0 1 0 2.90 0a1.45 1.45 0 1 0 -2.90 0M77.0 620.2m-1.45 0a1.45 1.45 0 1 0 2.90 0a1.45 1.45 0 1 0 -2.90 0M78.7 627.4m-1.45 0a1.45 1.45 0 1 0 2.90 0a1.45 1.45 0 1 0 -2.90 0M80.4 631.9m-1.45 0a1.45 1.45 0 1 0 2.90 0a1.45 1.45 0 1 0 -2.90 0M82.1 633.5m-1.45 0a1.45 1.45 0 1 0 2.90 0a1.45 1.45 0 1 0 -2.90 0M83.8 632.8m-1.45 0a1.45 1.45 0 1 0 2.90 0a1.45 1.45 0 1 0 -2.90 0M85.5 626.5m-1.45 0a1.45 1.45 0 1 0 2.90 0a1.45 1.45 0 1 0 -2.90 0M87.3 615.4m-1.45 0a1.45 1.45 0 1 0 2.90 0a1.45 1.45 0 1 0 -2.90 0M89.0 604.0m-1.45 0a1.45 1.45 0 1 0 2.90 0a1.45 1.45 0 1 0 -2.90 0M90.7 608.4m-1.45 0a1.45 1.45 0 1 0 2.90 0a1.45 1.45 0 1 0 -2.90 0M92.4 612.2m-1.45 0a1.45 1.45 0 1 0 2.90 0a1.45 1.45 0 1 0 -2.90 0M94.1 613.9m-1.45 0a1.45 1.45 0 1 0 2.90 0a1.45 1.45 0 1 0 -2.90 0M95.8 615.1m-1.45 0a1.45 1.45 0 1 0 2.90 0a1.45 1.45 0 1 0 -2.90 0M97.5 616.3m-1.45 0a1.45 1.45 0 1 0 2.90 0a1.45 1.45 0 1 0 -2.90 0M99.2 617.1m-1.45 0a1.45 1.45 0 1 0 2.90 0a1.45 1.45 0 1 0 -2.90 0M100.9 618.0m-1.45 0a1.45 1.45 0 1 0 2.90 0a1.45 1.45 0 1 0 -2.90 0M102.6 618.0m-1.45 0a1.45 1.45 0 1 0 2.90 0a1.45 1.45 0 1 0 -2.90 0M104.4 612.8m-1.45 0a1.45 1.45 0 1 0 2.90 0a1.45 1.45 0 1 0 -2.90 0M106.1 601.7m-1.45 0a1.45 1.45 0 1 0 2.90 0a1.45 1.45 0 1 0 -2.90 0M107.8 579.1m-1.45 0a1.45 1.45 0 1 0 2.90 0a1.45 1.45 0 1 0 -2.90 0M109.5 563.7m-1.45 0a1.45 1.45 0 1 0 2.90 0a1.45 1.45 0 1 0 -2.90 0M111.2 558.1m-1.45 0a1.45 1.45 0 1 0 2.90 0a1.45 1.45 0 1 0 -2.90 0M112.9 563.3m-1.45 0a1.45 1.45 0 1 0 2.90 0a1.45 1.45 0 1 0 -2.90 0M114.6 569.4m-1.45 0a1.45 1.45 0 1 0 2.90 0a1.45 1.45 0 1 0 -2.90 0M116.3 573.7m-1.45 0a1.45 1.45 0 1 0 2.90 0a1.45 1.45 0 1 0 -2.90 0M118.0 578.6m-1.45 0a1.45 1.45 0 1 0 2.90 0a1.45 1.45 0 1 0 -2.90 0M119.7 582.6m-1.45 0a1.45 1.45 0 1 0 2.90 0a1.45 1.45 0 1 0 -2.90 0M121.4 585.5m-1.45 0a1.45 1.45 0 1 0 2.90 0a1.45 1.45 0 1 0 -2.90 0M123.2 587.1m-1.45 0a1.45 1.45 0 1 0 2.90 0a1.45 1.45 0 1 0 -2.90 0M124.9 587.6m-1.45 0a1.45 1.45 0 1 0 2.90 0a1.45 1.45 0 1 0 -2.90 0M126.6 586.1m-1.45 0a1.45 1.45 0 1 0 2.90 0a1.45 1.45 0 1 0 -2.90 0M128.3 581.2m-1.45 0a1.45 1.45 0 1 0 2.90 0a1.45 1.45 0 1 0 -2.90 0M130.0 575.9m-1.45 0a1.45 1.45 0 1 0 2.90 0a1.45 1.45 0 1 0 -2.90 0M131.7 569.2m-1.45 0a1.45 1.45 0 1 0 2.90 0a1.45 1.45 0 1 0 -2.90 0M133.4 568.7m-1.45 0a1.45 1.45 0 1 0 2.90 0a1.45 1.45 0 1 0 -2.90 0M135.1 569.1m-1.45 0a1.45 1.45 0 1 0 2.90 0a1.45 1.45 0 1 0 -2.90 0M136.8 569.3m-1.45 0a1.45 1.45 0 1 0 2.90 0a1.45 1.45 0 1 0 -2.90 0M138.5 568.8m-1.45 0a1.45 1.45 0 1 0 2.90 0a1.45 1.45 0 1 0 -2.90 0M140.2 570.3m-1.45 0a1.45 1.45 0 1 0 2.90 0a1.45 1.45 0 1 0 -2.90 0M142.0 569.3m-1.45 0a1.45 1.45 0 1 0 2.90 0a1.45 1.45 0 1 0 -2.90 0M143.7 568.7m-1.45 0a1.45 1.45 0 1 0 2.90 0a1.45 1.45 0 1 0 -2.90 0M145.4 569.6m-1.45 0a1.45 1.45 0 1 0 2.90 0a1.45 1.45 0 1 0 -2.90 0M147.1 566.2m-1.45 0a1.45 1.45 0 1 0 2.90 0a1.45 1.45 0 1 0 -2.90 0M148.8 558.1m-1.45 0a1.45 1.45 0 1 0 2.90 0a1.45 1.45 0 1 0 -2.90 0M150.5 541.0m-1.45 0a1.45 1.45 0 1 0 2.90 0a1.45 1.45 0 1 0 -2.90 0M152.2 524.9m-1.45 0a1.45 1.45 0 1 0 2.90 0a1.45 1.45 0 1 0 -2.90 0M153.9 521.8m-1.45 0a1.45 1.45 0 1 0 2.90 0a1.45 1.45 0 1 0 -2.90 0M155.6 523.4m-1.45 0a1.45 1.45 0 1 0 2.90 0a1.45 1.45 0 1 0 -2.90 0M157.3 524.2m-1.45 0a1.45 1.45 0 1 0 2.90 0a1.45 1.45 0 1 0 -2.90 0M159.0 524.3m-1.45 0a1.45 1.45 0 1 0 2.90 0a1.45 1.45 0 1 0 -2.90 0M160.8 522.6m-1.45 0a1.45 1.45 0 1 0 2.90 0a1.45 1.45 0 1 0 -2.90 0M162.5 520.1m-1.45 0a1.45 1.45 0 1 0 2.90 0a1.45 1.45 0 1 0 -2.90 0M164.2 517.2m-1.45 0a1.45 1.45 0 1 0 2.90 0a1.45 1.45 0 1 0 -2.90 0M165.9 514.3m-1.45 0a1.45 1.45 0 1 0 2.90 0a1.45 1.45 0 1 0 -2.90 0M167.6 511.9m-1.45 0a1.45 1.45 0 1 0 2.90 0a1.45 1.45 0 1 0 -2.90 0M169.3 510.0m-1.45 0a1.45 1.45 0 1 0 2.90 0a1.45 1.45 0 1 0 -2.90 0M171.0 508.3m-1.45 0a1.45 1.45 0 1 0 2.90 0a1.45 1.45 0 1 0 -2.90 0M172.7 507.5m-1.45 0a1.45 1.45 0 1 0 2.90 0a1.45 1.45 0 1 0 -2.90 0M174.4 508.1m-1.45 0a1.45 1.45 0 1 0 2.90 0a1.45 1.45 0 1 0 -2.90 0M176.1 510.1m-1.45 0a1.45 1.45 0 1 0 2.90 0a1.45 1.45 0 1 0 -2.90 0M177.9 512.6m-1.45 0a1.45 1.45 0 1 0 2.90 0a1.45 1.45 0 1 0 -2.90 0M179.6 515.6m-1.45 0a1.45 1.45 0 1 0 2.90 0a1.45 1.45 0 1 0 -2.90 0M181.3 519.0m-1.45 0a1.45 1.45 0 1 0 2.90 0a1.45 1.45 0 1 0 -2.90 0M183.0 522.4m-1.45 0a1.45 1.45 0 1 0 2.90 0a1.45 1.45 0 1 0 -2.90 0M184.7 525.2m-1.45 0a1.45 1.45 0 1 0 2.90 0a1.45 1.45 0 1 0 -2.90 0M186.4 527.2m-1.45 0a1.45 1.45 0 1 0 2.90 0a1.45 1.45 0 1 0 -2.90 0M188.1 528.8m-1.45 0a1.45 1.45 0 1 0 2.90 0a1.45 1.45 0 1 0 -2.90 0M189.8 529.8m-1.45 0a1.45 1.45 0 1 0 2.90 0a1.45 1.45 0 1 0 -2.90 0M191.5 530.5m-1.45 0a1.45 1.45 0 1 0 2.90 0a1.45 1.45 0 1 0 -2.90 0M193.2 529.9m-1.45 0a1.45 1.45 0 1 0 2.90 0a1.45 1.45 0 1 0 -2.90 0M194.9 528.0m-1.45 0a1.45 1.45 0 1 0 2.90 0a1.45 1.45 0 1 0 -2.90 0M196.7 527.3m-1.45 0a1.45 1.45 0 1 0 2.90 0a1.45 1.45 0 1 0 -2.90 0M198.4 529.7m-1.45 0a1.45 1.45 0 1 0 2.90 0a1.45 1.45 0 1 0 -2.90 0M200.1 531.8m-1.45 0a1.45 1.45 0 1 0 2.90 0a1.45 1.45 0 1 0 -2.90 0M201.8 533.7m-1.45 0a1.45 1.45 0 1 0 2.90 0a1.45 1.45 0 1 0 -2.90 0M203.5 535.4m-1.45 0a1.45 1.45 0 1 0 2.90 0a1.45 1.45 0 1 0 -2.90 0M205.2 537.1m-1.45 0a1.45 1.45 0 1 0 2.90 0a1.45 1.45 0 1 0 -2.90 0M206.9 538.0m-1.45 0a1.45 1.45 0 1 0 2.90 0a1.45 1.45 0 1 0 -2.90 0M208.6 538.9m-1.45 0a1.45 1.45 0 1 0 2.90 0a1.45 1.45 0 1 0 -2.90 0M210.3 539.3m-1.45 0a1.45 1.45 0 1 0 2.90 0a1.45 1.45 0 1 0 -2.90 0M212.0 539.3m-1.45 0a1.45 1.45 0 1 0 2.90 0a1.45 1.45 0 1 0 -2.90 0M213.7 538.7m-1.45 0a1.45 1.45 0 1 0 2.90 0a1.45 1.45 0 1 0 -2.90 0M215.5 536.9m-1.45 0a1.45 1.45 0 1 0 2.90 0a1.45 1.45 0 1 0 -2.90 0M217.2 535.1m-1.45 0a1.45 1.45 0 1 0 2.90 0a1.45 1.45 0 1 0 -2.90 0M218.9 534.1m-1.45 0a1.45 1.45 0 1 0 2.90 0a1.45 1.45 0 1 0 -2.90 0M220.6 534.1m-1.45 0a1.45 1.45 0 1 0 2.90 0a1.45 1.45 0 1 0 -2.90 0M222.3 534.6m-1.45 0a1.45 1.45 0 1 0 2.90 0a1.45 1.45 0 1 0 -2.90 0M224.0 534.9m-1.45 0a1.45 1.45 0 1 0 2.90 0a1.45 1.45 0 1 0 -2.90 0M225.7 535.5m-1.45 0a1.45 1.45 0 1 0 2.90 0a1.45 1.45 0 1 0 -2.90 0M227.4 536.6m-1.45 0a1.45 1.45 0 1 0 2.90 0a1.45 1.45 0 1 0 -2.90 0M229.1 537.1m-1.45 0a1.45 1.45 0 1 0 2.90 0a1.45 1.45 0 1 0 -2.90 0M230.8 537.8m-1.45 0a1.45 1.45 0 1 0 2.90 0a1.45 1.45 0 1 0 -2.90 0M232.5 537.8m-1.45 0a1.45 1.45 0 1 0 2.90 0a1.45 1.45 0 1 0 -2.90 0M234.3 537.2m-1.45 0a1.45 1.45 0 1 0 2.90 0a1.45 1.45 0 1 0 -2.90 0M236.0 534.9m-1.45 0a1.45 1.45 0 1 0 2.90 0a1.45 1.45 0 1 0 -2.90 0M237.7 532.4m-1.45 0a1.45 1.45 0 1 0 2.90 0a1.45 1.45 0 1 0 -2.90 0M239.4 531.7m-1.45 0a1.45 1.45 0 1 0 2.90 0a1.45 1.45 0 1 0 -2.90 0M241.1 532.0m-1.45 0a1.45 1.45 0 1 0 2.90 0a1.45 1.45 0 1 0 -2.90 0M242.8 533.1m-1.45 0a1.45 1.45 0 1 0 2.90 0a1.45 1.45 0 1 0 -2.90 0M244.5 534.9m-1.45 0a1.45 1.45 0 1 0 2.90 0a1.45 1.45 0 1 0 -2.90 0M246.2 537.1m-1.45 0a1.45 1.45 0 1 0 2.90 0a1.45 1.45 0 1 0 -2.90 0M247.9 539.3m-1.45 0a1.45 1.45 0 1 0 2.90 0a1.45 1.45 0 1 0 -2.90 0M249.6 541.0m-1.45 0a1.45 1.45 0 1 0 2.90 0a1.45 1.45 0 1 0 -2.90 0M251.4 542.6m-1.45 0a1.45 1.45 0 1 0 2.90 0a1.45 1.45 0 1 0 -2.90 0M253.1 544.1m-1.45 0a1.45 1.45 0 1 0 2.90 0a1.45 1.45 0 1 0 -2.90 0M254.8 545.5m-1.45 0a1.45 1.45 0 1 0 2.90 0a1.45 1.45 0 1 0 -2.90 0M256.5 547.1m-1.45 0a1.45 1.45 0 1 0 2.90 0a1.45 1.45 0 1 0 -2.90 0M258.2 548.7m-1.45 0a1.45 1.45 0 1 0 2.90 0a1.45 1.45 0 1 0 -2.90 0M259.9 550.3m-1.45 0a1.45 1.45 0 1 0 2.90 0a1.45 1.45 0 1 0 -2.90 0M261.6 551.8m-1.45 0a1.45 1.45 0 1 0 2.90 0a1.45 1.45 0 1 0 -2.90 0M263.3 553.1m-1.45 0a1.45 1.45 0 1 0 2.90 0a1.45 1.45 0 1 0 -2.90 0M265.0 553.9m-1.45 0a1.45 1.45 0 1 0 2.90 0a1.45 1.45 0 1 0 -2.90 0M266.7 554.6m-1.45 0a1.45 1.45 0 1 0 2.90 0a1.45 1.45 0 1 0 -2.90 0M268.4 554.9m-1.45 0a1.45 1.45 0 1 0 2.90 0a1.45 1.45 0 1 0 -2.90 0M270.2 555.0m-1.45 0a1.45 1.45 0 1 0 2.90 0a1.45 1.45 0 1 0 -2.90 0M271.9 554.6m-1.45 0a1.45 1.45 0 1 0 2.90 0a1.45 1.45 0 1 0 -2.90 0M273.6 553.8m-1.45 0a1.45 1.45 0 1 0 2.90 0a1.45 1.45 0 1 0 -2.90 0M275.3 552.6m-1.45 0a1.45 1.45 0 1 0 2.90 0a1.45 1.45 0 1 0 -2.90 0M277.0 551.2m-1.45 0a1.45 1.45 0 1 0 2.90 0a1.45 1.45 0 1 0 -2.90 0M278.7 548.9m-1.45 0a1.45 1.45 0 1 0 2.90 0a1.45 1.45 0 1 0 -2.90 0M280.4 547.8m-1.45 0a1.45 1.45 0 1 0 2.90 0a1.45 1.45 0 1 0 -2.90 0M282.1 550.4m-1.45 0a1.45 1.45 0 1 0 2.90 0a1.45 1.45 0 1 0 -2.90 0M283.8 554.1m-1.45 0a1.45 1.45 0 1 0 2.90 0a1.45 1.45 0 1 0 -2.90 0M285.5 557.4m-1.45 0a1.45 1.45 0 1 0 2.90 0a1.45 1.45 0 1 0 -2.90 0M287.2 560.3m-1.45 0a1.45 1.45 0 1 0 2.90 0a1.45 1.45 0 1 0 -2.90 0M289.0 563.1m-1.45 0a1.45 1.45 0 1 0 2.90 0a1.45 1.45 0 1 0 -2.90 0M290.7 566.0m-1.45 0a1.45 1.45 0 1 0 2.90 0a1.45 1.45 0 1 0 -2.90 0M292.4 568.6m-1.45 0a1.45 1.45 0 1 0 2.90 0a1.45 1.45 0 1 0 -2.90 0M294.1 571.4m-1.45 0a1.45 1.45 0 1 0 2.90 0a1.45 1.45 0 1 0 -2.90 0M295.8 573.6m-1.45 0a1.45 1.45 0 1 0 2.90 0a1.45 1.45 0 1 0 -2.90 0M297.5 575.5m-1.45 0a1.45 1.45 0 1 0 2.90 0a1.45 1.45 0 1 0 -2.90 0M299.2 576.9m-1.45 0a1.45 1.45 0 1 0 2.90 0a1.45 1.45 0 1 0 -2.90 0M300.9 578.0m-1.45 0a1.45 1.45 0 1 0 2.90 0a1.45 1.45 0 1 0 -2.90 0M302.6 579.6m-1.45 0a1.45 1.45 0 1 0 2.90 0a1.45 1.45 0 1 0 -2.90 0M304.3 581.3m-1.45 0a1.45 1.45 0 1 0 2.90 0a1.45 1.45 0 1 0 -2.90 0M306.0 583.1m-1.45 0a1.45 1.45 0 1 0 2.90 0a1.45 1.45 0 1 0 -2.90 0M307.8 585.1m-1.45 0a1.45 1.45 0 1 0 2.90 0a1.45 1.45 0 1 0 -2.90 0M309.5 587.0m-1.45 0a1.45 1.45 0 1 0 2.90 0a1.45 1.45 0 1 0 -2.90 0"/>
<polyline fill="none" stroke="#e2161c" stroke-width="0.85" stroke-linejoin="round" points="58.2,652.3 59.9,646.5 61.6,639.1 63.3,625.8 65.0,609.9 66.7,590.7 68.5,579.2 70.2,577.8 71.9,580.0 73.6,588.6 75.3,595.0 77.0,599.6 78.7,600.7 80.4,599.7 82.1,600.5 83.8,598.8 85.5,597.1 87.3,594.6 89.0,592.2 90.7,590.0 92.4,589.6 94.1,591.3 95.8,593.7 97.5,596.2 99.2,598.1 100.9,597.1 102.6,603.8 104.4,599.2 106.1,590.3 107.8,575.9 109.5,564.6 111.2,561.7 112.9,564.1 114.6,569.4 116.3,573.7 118.0,577.3 119.7,580.9 121.4,584.0 123.2,586.1 124.9,586.4 126.6,584.9 128.3,580.0 130.0,575.1 131.7,570.8 133.4,569.9 135.1,570.3 136.8,569.9 138.5,571.3 140.2,573.4 142.0,571.1 143.7,572.6 145.4,572.2 147.1,571.2 148.8,557.3 150.5,543.4 152.2,529.4 153.9,531.6 155.6,529.7 157.3,532.1 159.0,525.6 160.8,524.1 162.5,524.5 164.2,523.1 165.9,519.3 167.6,514.6 169.3,511.0 171.0,507.8 172.7,504.4 174.4,504.9 176.1,504.0 177.9,505.3 179.6,506.8 181.3,512.9 183.0,518.4 184.7,515.8 186.4,523.1 188.1,528.9 189.8,525.9 191.5,529.4 193.2,530.6 194.9,531.6 196.7,533.3 198.4,528.0 200.1,527.1 201.8,530.6 203.5,531.8 205.2,533.0 206.9,534.6 208.6,536.7 210.3,531.3 212.0,532.4 213.7,539.9 215.5,537.9 217.2,531.1 218.9,530.9 220.6,533.0 222.3,533.9 224.0,531.7 225.7,532.0 227.4,533.9 229.1,534.0 230.8,529.2 232.5,529.8 234.3,530.9 236.0,527.7 237.7,523.4 239.4,523.3 241.1,524.4 242.8,525.8 244.5,528.5 246.2,532.1 247.9,536.4 249.6,539.4 251.4,540.3 253.1,542.9 254.8,547.5 256.5,548.5 258.2,547.5 259.9,544.7 261.6,550.5 263.3,552.5 265.0,553.4 266.7,553.7 268.4,554.1 270.2,553.9 271.9,552.8 273.6,552.4 275.3,551.8 277.0,549.0 278.7,545.6 280.4,544.1 282.1,546.8 283.8,551.7 285.5,556.2 287.2,560.2 289.0,563.7 290.7,566.8 292.4,569.6 294.1,572.1 295.8,574.5 297.5,574.9 299.2,574.5 300.9,576.8 302.6,580.4 304.3,582.6 306.0,584.8 307.8,586.9 309.5,588.7"/>
<path fill="#e2161c" d="M58.2 652.3m-1.15 0a1.15 1.15 0 1 0 2.30 0a1.15 1.15 0 1 0 -2.30 0M59.9 646.5m-1.15 0a1.15 1.15 0 1 0 2.30 0a1.15 1.15 0 1 0 -2.30 0M61.6 639.1m-1.15 0a1.15 1.15 0 1 0 2.30 0a1.15 1.15 0 1 0 -2.30 0M63.3 625.8m-1.15 0a1.15 1.15 0 1 0 2.30 0a1.15 1.15 0 1 0 -2.30 0M65.0 609.9m-1.15 0a1.15 1.15 0 1 0 2.30 0a1.15 1.15 0 1 0 -2.30 0M66.7 590.7m-1.15 0a1.15 1.15 0 1 0 2.30 0a1.15 1.15 0 1 0 -2.30 0M68.5 579.2m-1.15 0a1.15 1.15 0 1 0 2.30 0a1.15 1.15 0 1 0 -2.30 0M70.2 577.8m-1.15 0a1.15 1.15 0 1 0 2.30 0a1.15 1.15 0 1 0 -2.30 0M71.9 580.0m-1.15 0a1.15 1.15 0 1 0 2.30 0a1.15 1.15 0 1 0 -2.30 0M73.6 588.6m-1.15 0a1.15 1.15 0 1 0 2.30 0a1.15 1.15 0 1 0 -2.30 0M75.3 595.0m-1.15 0a1.15 1.15 0 1 0 2.30 0a1.15 1.15 0 1 0 -2.30 0M77.0 599.6m-1.15 0a1.15 1.15 0 1 0 2.30 0a1.15 1.15 0 1 0 -2.30 0M78.7 600.7m-1.15 0a1.15 1.15 0 1 0 2.30 0a1.15 1.15 0 1 0 -2.30 0M80.4 599.7m-1.15 0a1.15 1.15 0 1 0 2.30 0a1.15 1.15 0 1 0 -2.30 0M82.1 600.5m-1.15 0a1.15 1.15 0 1 0 2.30 0a1.15 1.15 0 1 0 -2.30 0M83.8 598.8m-1.15 0a1.15 1.15 0 1 0 2.30 0a1.15 1.15 0 1 0 -2.30 0M85.5 597.1m-1.15 0a1.15 1.15 0 1 0 2.30 0a1.15 1.15 0 1 0 -2.30 0M87.3 594.6m-1.15 0a1.15 1.15 0 1 0 2.30 0a1.15 1.15 0 1 0 -2.30 0M89.0 592.2m-1.15 0a1.15 1.15 0 1 0 2.30 0a1.15 1.15 0 1 0 -2.30 0M90.7 590.0m-1.15 0a1.15 1.15 0 1 0 2.30 0a1.15 1.15 0 1 0 -2.30 0M92.4 589.6m-1.15 0a1.15 1.15 0 1 0 2.30 0a1.15 1.15 0 1 0 -2.30 0M94.1 591.3m-1.15 0a1.15 1.15 0 1 0 2.30 0a1.15 1.15 0 1 0 -2.30 0M95.8 593.7m-1.15 0a1.15 1.15 0 1 0 2.30 0a1.15 1.15 0 1 0 -2.30 0M97.5 596.2m-1.15 0a1.15 1.15 0 1 0 2.30 0a1.15 1.15 0 1 0 -2.30 0M99.2 598.1m-1.15 0a1.15 1.15 0 1 0 2.30 0a1.15 1.15 0 1 0 -2.30 0M100.9 597.1m-1.15 0a1.15 1.15 0 1 0 2.30 0a1.15 1.15 0 1 0 -2.30 0M102.6 603.8m-1.15 0a1.15 1.15 0 1 0 2.30 0a1.15 1.15 0 1 0 -2.30 0M104.4 599.2m-1.15 0a1.15 1.15 0 1 0 2.30 0a1.15 1.15 0 1 0 -2.30 0M106.1 590.3m-1.15 0a1.15 1.15 0 1 0 2.30 0a1.15 1.15 0 1 0 -2.30 0M107.8 575.9m-1.15 0a1.15 1.15 0 1 0 2.30 0a1.15 1.15 0 1 0 -2.30 0M109.5 564.6m-1.15 0a1.15 1.15 0 1 0 2.30 0a1.15 1.15 0 1 0 -2.30 0M111.2 561.7m-1.15 0a1.15 1.15 0 1 0 2.30 0a1.15 1.15 0 1 0 -2.30 0M112.9 564.1m-1.15 0a1.15 1.15 0 1 0 2.30 0a1.15 1.15 0 1 0 -2.30 0M114.6 569.4m-1.15 0a1.15 1.15 0 1 0 2.30 0a1.15 1.15 0 1 0 -2.30 0M116.3 573.7m-1.15 0a1.15 1.15 0 1 0 2.30 0a1.15 1.15 0 1 0 -2.30 0M118.0 577.3m-1.15 0a1.15 1.15 0 1 0 2.30 0a1.15 1.15 0 1 0 -2.30 0M119.7 580.9m-1.15 0a1.15 1.15 0 1 0 2.30 0a1.15 1.15 0 1 0 -2.30 0M121.4 584.0m-1.15 0a1.15 1.15 0 1 0 2.30 0a1.15 1.15 0 1 0 -2.30 0M123.2 586.1m-1.15 0a1.15 1.15 0 1 0 2.30 0a1.15 1.15 0 1 0 -2.30 0M124.9 586.4m-1.15 0a1.15 1.15 0 1 0 2.30 0a1.15 1.15 0 1 0 -2.30 0M126.6 584.9m-1.15 0a1.15 1.15 0 1 0 2.30 0a1.15 1.15 0 1 0 -2.30 0M128.3 580.0m-1.15 0a1.15 1.15 0 1 0 2.30 0a1.15 1.15 0 1 0 -2.30 0M130.0 575.1m-1.15 0a1.15 1.15 0 1 0 2.30 0a1.15 1.15 0 1 0 -2.30 0M131.7 570.8m-1.15 0a1.15 1.15 0 1 0 2.30 0a1.15 1.15 0 1 0 -2.30 0M133.4 569.9m-1.15 0a1.15 1.15 0 1 0 2.30 0a1.15 1.15 0 1 0 -2.30 0M135.1 570.3m-1.15 0a1.15 1.15 0 1 0 2.30 0a1.15 1.15 0 1 0 -2.30 0M136.8 569.9m-1.15 0a1.15 1.15 0 1 0 2.30 0a1.15 1.15 0 1 0 -2.30 0M138.5 571.3m-1.15 0a1.15 1.15 0 1 0 2.30 0a1.15 1.15 0 1 0 -2.30 0M140.2 573.4m-1.15 0a1.15 1.15 0 1 0 2.30 0a1.15 1.15 0 1 0 -2.30 0M142.0 571.1m-1.15 0a1.15 1.15 0 1 0 2.30 0a1.15 1.15 0 1 0 -2.30 0M143.7 572.6m-1.15 0a1.15 1.15 0 1 0 2.30 0a1.15 1.15 0 1 0 -2.30 0M145.4 572.2m-1.15 0a1.15 1.15 0 1 0 2.30 0a1.15 1.15 0 1 0 -2.30 0M147.1 571.2m-1.15 0a1.15 1.15 0 1 0 2.30 0a1.15 1.15 0 1 0 -2.30 0M148.8 557.3m-1.15 0a1.15 1.15 0 1 0 2.30 0a1.15 1.15 0 1 0 -2.30 0M150.5 543.4m-1.15 0a1.15 1.15 0 1 0 2.30 0a1.15 1.15 0 1 0 -2.30 0M152.2 529.4m-1.15 0a1.15 1.15 0 1 0 2.30 0a1.15 1.15 0 1 0 -2.30 0M153.9 531.6m-1.15 0a1.15 1.15 0 1 0 2.30 0a1.15 1.15 0 1 0 -2.30 0M155.6 529.7m-1.15 0a1.15 1.15 0 1 0 2.30 0a1.15 1.15 0 1 0 -2.30 0M157.3 532.1m-1.15 0a1.15 1.15 0 1 0 2.30 0a1.15 1.15 0 1 0 -2.30 0M159.0 525.6m-1.15 0a1.15 1.15 0 1 0 2.30 0a1.15 1.15 0 1 0 -2.30 0M160.8 524.1m-1.15 0a1.15 1.15 0 1 0 2.30 0a1.15 1.15 0 1 0 -2.30 0M162.5 524.5m-1.15 0a1.15 1.15 0 1 0 2.30 0a1.15 1.15 0 1 0 -2.30 0M164.2 523.1m-1.15 0a1.15 1.15 0 1 0 2.30 0a1.15 1.15 0 1 0 -2.30 0M165.9 519.3m-1.15 0a1.15 1.15 0 1 0 2.30 0a1.15 1.15 0 1 0 -2.30 0M167.6 514.6m-1.15 0a1.15 1.15 0 1 0 2.30 0a1.15 1.15 0 1 0 -2.30 0M169.3 511.0m-1.15 0a1.15 1.15 0 1 0 2.30 0a1.15 1.15 0 1 0 -2.30 0M171.0 507.8m-1.15 0a1.15 1.15 0 1 0 2.30 0a1.15 1.15 0 1 0 -2.30 0M172.7 504.4m-1.15 0a1.15 1.15 0 1 0 2.30 0a1.15 1.15 0 1 0 -2.30 0M174.4 504.9m-1.15 0a1.15 1.15 0 1 0 2.30 0a1.15 1.15 0 1 0 -2.30 0M176.1 504.0m-1.15 0a1.15 1.15 0 1 0 2.30 0a1.15 1.15 0 1 0 -2.30 0M177.9 505.3m-1.15 0a1.15 1.15 0 1 0 2.30 0a1.15 1.15 0 1 0 -2.30 0M179.6 506.8m-1.15 0a1.15 1.15 0 1 0 2.30 0a1.15 1.15 0 1 0 -2.30 0M181.3 512.9m-1.15 0a1.15 1.15 0 1 0 2.30 0a1.15 1.15 0 1 0 -2.30 0M183.0 518.4m-1.15 0a1.15 1.15 0 1 0 2.30 0a1.15 1.15 0 1 0 -2.30 0M184.7 515.8m-1.15 0a1.15 1.15 0 1 0 2.30 0a1.15 1.15 0 1 0 -2.30 0M186.4 523.1m-1.15 0a1.15 1.15 0 1 0 2.30 0a1.15 1.15 0 1 0 -2.30 0M188.1 528.9m-1.15 0a1.15 1.15 0 1 0 2.30 0a1.15 1.15 0 1 0 -2.30 0M189.8 525.9m-1.15 0a1.15 1.15 0 1 0 2.30 0a1.15 1.15 0 1 0 -2.30 0M191.5 529.4m-1.15 0a1.15 1.15 0 1 0 2.30 0a1.15 1.15 0 1 0 -2.30 0M193.2 530.6m-1.15 0a1.15 1.15 0 1 0 2.30 0a1.15 1.15 0 1 0 -2.30 0M194.9 531.6m-1.15 0a1.15 1.15 0 1 0 2.30 0a1.15 1.15 0 1 0 -2.30 0M196.7 533.3m-1.15 0a1.15 1.15 0 1 0 2.30 0a1.15 1.15 0 1 0 -2.30 0M198.4 528.0m-1.15 0a1.15 1.15 0 1 0 2.30 0a1.15 1.15 0 1 0 -2.30 0M200.1 527.1m-1.15 0a1.15 1.15 0 1 0 2.30 0a1.15 1.15 0 1 0 -2.30 0M201.8 530.6m-1.15 0a1.15 1.15 0 1 0 2.30 0a1.15 1.15 0 1 0 -2.30 0M203.5 531.8m-1.15 0a1.15 1.15 0 1 0 2.30 0a1.15 1.15 0 1 0 -2.30 0M205.2 533.0m-1.15 0a1.15 1.15 0 1 0 2.30 0a1.15 1.15 0 1 0 -2.30 0M206.9 534.6m-1.15 0a1.15 1.15 0 1 0 2.30 0a1.15 1.15 0 1 0 -2.30 0M208.6 536.7m-1.15 0a1.15 1.15 0 1 0 2.30 0a1.15 1.15 0 1 0 -2.30 0M210.3 531.3m-1.15 0a1.15 1.15 0 1 0 2.30 0a1.15 1.15 0 1 0 -2.30 0M212.0 532.4m-1.15 0a1.15 1.15 0 1 0 2.30 0a1.15 1.15 0 1 0 -2.30 0M213.7 539.9m-1.15 0a1.15 1.15 0 1 0 2.30 0a1.15 1.15 0 1 0 -2.30 0M215.5 537.9m-1.15 0a1.15 1.15 0 1 0 2.30 0a1.15 1.15 0 1 0 -2.30 0M217.2 531.1m-1.15 0a1.15 1.15 0 1 0 2.30 0a1.15 1.15 0 1 0 -2.30 0M218.9 530.9m-1.15 0a1.15 1.15 0 1 0 2.30 0a1.15 1.15 0 1 0 -2.30 0M220.6 533.0m-1.15 0a1.15 1.15 0 1 0 2.30 0a1.15 1.15 0 1 0 -2.30 0M222.3 533.9m-1.15 0a1.15 1.15 0 1 0 2.30 0a1.15 1.15 0 1 0 -2.30 0M224.0 531.7m-1.15 0a1.15 1.15 0 1 0 2.30 0a1.15 1.15 0 1 0 -2.30 0M225.7 532.0m-1.15 0a1.15 1.15 0 1 0 2.30 0a1.15 1.15 0 1 0 -2.30 0M227.4 533.9m-1.15 0a1.15 1.15 0 1 0 2.30 0a1.15 1.15 0 1 0 -2.30 0M229.1 534.0m-1.15 0a1.15 1.15 0 1 0 2.30 0a1.15 1.15 0 1 0 -2.30 0M230.8 529.2m-1.15 0a1.15 1.15 0 1 0 2.30 0a1.15 1.15 0 1 0 -2.30 0M232.5 529.8m-1.15 0a1.15 1.15 0 1 0 2.30 0a1.15 1.15 0 1 0 -2.30 0M234.3 530.9m-1.15 0a1.15 1.15 0 1 0 2.30 0a1.15 1.15 0 1 0 -2.30 0M236.0 527.7m-1.15 0a1.15 1.15 0 1 0 2.30 0a1.15 1.15 0 1 0 -2.30 0M237.7 523.4m-1.15 0a1.15 1.15 0 1 0 2.30 0a1.15 1.15 0 1 0 -2.30 0M239.4 523.3m-1.15 0a1.15 1.15 0 1 0 2.30 0a1.15 1.15 0 1 0 -2.30 0M241.1 524.4m-1.15 0a1.15 1.15 0 1 0 2.30 0a1.15 1.15 0 1 0 -2.30 0M242.8 525.8m-1.15 0a1.15 1.15 0 1 0 2.30 0a1.15 1.15 0 1 0 -2.30 0M244.5 528.5m-1.15 0a1.15 1.15 0 1 0 2.30 0a1.15 1.15 0 1 0 -2.30 0M246.2 532.1m-1.15 0a1.15 1.15 0 1 0 2.30 0a1.15 1.15 0 1 0 -2.30 0M247.9 536.4m-1.15 0a1.15 1.15 0 1 0 2.30 0a1.15 1.15 0 1 0 -2.30 0M249.6 539.4m-1.15 0a1.15 1.15 0 1 0 2.30 0a1.15 1.15 0 1 0 -2.30 0M251.4 540.3m-1.15 0a1.15 1.15 0 1 0 2.30 0a1.15 1.15 0 1 0 -2.30 0M253.1 542.9m-1.15 0a1.15 1.15 0 1 0 2.30 0a1.15 1.15 0 1 0 -2.30 0M254.8 547.5m-1.15 0a1.15 1.15 0 1 0 2.30 0a1.15 1.15 0 1 0 -2.30 0M256.5 548.5m-1.15 0a1.15 1.15 0 1 0 2.30 0a1.15 1.15 0 1 0 -2.30 0M258.2 547.5m-1.15 0a1.15 1.15 0 1 0 2.30 0a1.15 1.15 0 1 0 -2.30 0M259.9 544.7m-1.15 0a1.15 1.15 0 1 0 2.30 0a1.15 1.15 0 1 0 -2.30 0M261.6 550.5m-1.15 0a1.15 1.15 0 1 0 2.30 0a1.15 1.15 0 1 0 -2.30 0M263.3 552.5m-1.15 0a1.15 1.15 0 1 0 2.30 0a1.15 1.15 0 1 0 -2.30 0M265.0 553.4m-1.15 0a1.15 1.15 0 1 0 2.30 0a1.15 1.15 0 1 0 -2.30 0M266.7 553.7m-1.15 0a1.15 1.15 0 1 0 2.30 0a1.15 1.15 0 1 0 -2.30 0M268.4 554.1m-1.15 0a1.15 1.15 0 1 0 2.30 0a1.15 1.15 0 1 0 -2.30 0M270.2 553.9m-1.15 0a1.15 1.15 0 1 0 2.30 0a1.15 1.15 0 1 0 -2.30 0M271.9 552.8m-1.15 0a1.15 1.15 0 1 0 2.30 0a1.15 1.15 0 1 0 -2.30 0M273.6 552.4m-1.15 0a1.15 1.15 0 1 0 2.30 0a1.15 1.15 0 1 0 -2.30 0M275.3 551.8m-1.15 0a1.15 1.15 0 1 0 2.30 0a1.15 1.15 0 1 0 -2.30 0M277.0 549.0m-1.15 0a1.15 1.15 0 1 0 2.30 0a1.15 1.15 0 1 0 -2.30 0M278.7 545.6m-1.15 0a1.15 1.15 0 1 0 2.30 0a1.15 1.15 0 1 0 -2.30 0M280.4 544.1m-1.15 0a1.15 1.15 0 1 0 2.30 0a1.15 1.15 0 1 0 -2.30 0M282.1 546.8m-1.15 0a1.15 1.15 0 1 0 2.30 0a1.15 1.15 0 1 0 -2.30 0M283.8 551.7m-1.15 0a1.15 1.15 0 1 0 2.30 0a1.15 1.15 0 1 0 -2.30 0M285.5 556.2m-1.15 0a1.15 1.15 0 1 0 2.30 0a1.15 1.15 0 1 0 -2.30 0M287.2 560.2m-1.15 0a1.15 1.15 0 1 0 2.30 0a1.15 1.15 0 1 0 -2.30 0M289.0 563.7m-1.15 0a1.15 1.15 0 1 0 2.30 0a1.15 1.15 0 1 0 -2.30 0M290.7 566.8m-1.15 0a1.15 1.15 0 1 0 2.30 0a1.15 1.15 0 1 0 -2.30 0M292.4 569.6m-1.15 0a1.15 1.15 0 1 0 2.30 0a1.15 1.15 0 1 0 -2.30 0M294.1 572.1m-1.15 0a1.15 1.15 0 1 0 2.30 0a1.15 1.15 0 1 0 -2.30 0M295.8 574.5m-1.15 0a1.15 1.15 0 1 0 2.30 0a1.15 1.15 0 1 0 -2.30 0M297.5 574.9m-1.15 0a1.15 1.15 0 1 0 2.30 0a1.15 1.15 0 1 0 -2.30 0M299.2 574.5m-1.15 0a1.15 1.15 0 1 0 2.30 0a1.15 1.15 0 1 0 -2.30 0M300.9 576.8m-1.15 0a1.15 1.15 0 1 0 2.30 0a1.15 1.15 0 1 0 -2.30 0M302.6 580.4m-1.15 0a1.15 1.15 0 1 0 2.30 0a1.15 1.15 0 1 0 -2.30 0M304.3 582.6m-1.15 0a1.15 1.15 0 1 0 2.30 0a1.15 1.15 0 1 0 -2.30 0M306.0 584.8m-1.15 0a1.15 1.15 0 1 0 2.30 0a1.15 1.15 0 1 0 -2.30 0M307.8 586.9m-1.15 0a1.15 1.15 0 1 0 2.30 0a1.15 1.15 0 1 0 -2.30 0M309.5 588.7m-1.15 0a1.15 1.15 0 1 0 2.30 0a1.15 1.15 0 1 0 -2.30 0"/>
<rect x="45.5" y="496.5" width="276.9" height="164.9" fill="none" stroke="#787878" stroke-width="1"/>
<text x="43.70" y="654.76" font-family="Liberation Serif" font-size="9.85" fill="#141414" text-anchor="end" >1.0</text>
<text x="43.70" y="632.36" font-family="Liberation Serif" font-size="9.85" fill="#141414" text-anchor="end" >1.5</text>
<text x="43.70" y="609.96" font-family="Liberation Serif" font-size="9.85" fill="#141414" text-anchor="end" >2.0</text>
<text x="43.70" y="587.56" font-family="Liberation Serif" font-size="9.85" fill="#141414" text-anchor="end" >2.5</text>
<text x="43.70" y="565.16" font-family="Liberation Serif" font-size="9.85" fill="#141414" text-anchor="end" >3.0</text>
<text x="43.70" y="542.76" font-family="Liberation Serif" font-size="9.85" fill="#141414" text-anchor="end" >3.5</text>
<text x="43.70" y="520.36" font-family="Liberation Serif" font-size="9.85" fill="#141414" text-anchor="end" >4.0</text>
<text x="58.20" y="670.50" font-family="Liberation Serif" font-size="9.85" fill="#141414" text-anchor="middle" >0</text>
<text x="92.39" y="670.50" font-family="Liberation Serif" font-size="9.85" fill="#141414" text-anchor="middle" >20</text>
<text x="126.57" y="670.50" font-family="Liberation Serif" font-size="9.85" fill="#141414" text-anchor="middle" >40</text>
<text x="160.76" y="670.50" font-family="Liberation Serif" font-size="9.85" fill="#141414" text-anchor="middle" >60</text>
<text x="194.94" y="670.50" font-family="Liberation Serif" font-size="9.85" fill="#141414" text-anchor="middle" >80</text>
<text x="229.13" y="670.50" font-family="Liberation Serif" font-size="9.85" fill="#141414" text-anchor="middle" >100</text>
<text x="263.32" y="670.50" font-family="Liberation Serif" font-size="9.85" fill="#141414" text-anchor="middle" >120</text>
<text x="297.50" y="670.50" font-family="Liberation Serif" font-size="9.85" fill="#141414" text-anchor="middle" >140</text>
<path d="M45.5 652.1h1.8M45.5 629.7h1.8M45.5 607.3h1.8M45.5 584.9h1.8M45.5 562.5h1.8M45.5 540.1h1.8M45.5 517.7h1.8M58.2 661.4v-1.8M92.4 661.4v-1.8M126.6 661.4v-1.8M160.8 661.4v-1.8M194.9 661.4v-1.8M229.1 661.4v-1.8M263.3 661.4v-1.8M297.5 661.4v-1.8" stroke="#787878" stroke-width="0.8" fill="none"/>
<text x="142.30" y="493.80" font-family="'Liberation Serif','Noto Serif CJK SC',serif" font-size="9.80" fill="#2c2c2c">2021年6号台风烟花</text>
<text x="174.15" y="682.50" font-family="'Liberation Serif','Noto Serif CJK SC',serif" font-size="9.80" fill="#141414">日期</text>
<g transform="rotate(-90 28.0 579.0)"><text x="18.20" y="578.95" font-family="'Liberation Serif','Noto Serif CJK SC',serif" font-size="9.80" fill="#141414">水位</text></g>
<rect x="252.2" y="501.2" width="64.8" height="31.1" rx="2" fill="#fff" fill-opacity="0.8" stroke="#d9d9d9" stroke-width="0.8"/>
<path d="M255.6 510.1H276.0" stroke="#0707c6" stroke-width="0.85"/>
<circle cx="265.8" cy="510.1" r="1.5" fill="#0707c6"/>
<path d="M255.6 523.9H276.0" stroke="#e2161c" stroke-width="0.85"/>
<circle cx="265.8" cy="523.9" r="1.0" fill="#e2161c"/>
<text x="284.20" y="513.60" font-family="'Liberation Serif','Noto Serif CJK SC',serif" font-size="9.60" fill="#3a3a3a">实测值</text>
<text x="284.20" y="527.40" font-family="'Liberation Serif','Noto Serif CJK SC',serif" font-size="9.60" fill="#3a3a3a">预测值</text>
<text x="70.60" y="516.50" font-family="Liberation Sans" font-size="17.50" fill="#111" text-anchor="middle" textLength="19.5" lengthAdjust="spacingAndGlyphs">(c)</text>
</g>
<g>
<polyline fill="none" stroke="#0707c6" stroke-width="0.85" stroke-linejoin="round" points="414.1,504.4 415.8,505.4 417.5,507.4 419.2,509.9 420.9,512.4 422.7,515.5 424.4,518.0 426.1,520.0 427.8,520.5 429.5,518.0 431.2,511.4 432.9,506.9 434.6,508.4 436.3,511.9 438.0,516.5 439.8,520.5 441.5,524.0 443.2,527.5 444.9,530.5 446.6,533.0 448.3,535.0 450.0,537.0 451.7,539.5 453.4,542.5 455.1,547.0 456.9,554.5 458.6,564.5 460.3,574.1 462.0,586.1 463.7,598.1 465.4,609.6 467.1,617.7 468.8,600.1 470.5,579.6 472.2,564.0 474.0,549.5 475.7,540.0 477.4,552.0 479.1,560.0 480.8,572.6 482.5,585.1 484.2,597.1 485.9,606.1 487.6,612.6 489.3,619.7 491.1,606.6 492.8,593.6 494.5,586.1 496.2,580.6 497.9,585.6 499.6,589.6 501.3,596.6 503.0,604.1 504.7,609.6 506.4,613.1 508.2,615.7 509.9,618.7 511.6,596.6 513.3,580.6 515.0,563.0 516.7,543.0 518.4,536.0 520.1,547.0 521.8,557.0 523.5,569.6 525.2,583.1 527.0,596.6 528.7,609.6 530.4,622.2 532.1,617.7 533.8,598.1 535.5,584.6 537.2,574.1 538.9,571.6 540.6,584.6 542.4,591.6 544.1,603.1 545.8,613.1 547.5,627.2 549.2,640.7 550.9,649.2 552.6,618.2 554.3,595.6 556.0,573.1 557.7,555.5 559.5,535.5 561.2,534.0 562.9,545.5 564.6,556.5 566.3,571.6 568.0,585.6 569.7,600.6 571.4,615.7 573.1,623.2 574.8,600.6 576.5,588.1 578.3,575.6 580.0,565.0 581.7,568.6 583.4,580.6 585.1,590.6 586.8,600.6 588.5,610.6 590.2,623.2 591.9,636.7 593.6,640.7 595.4,610.6 597.1,590.6 598.8,568.1 600.5,545.5 602.2,534.0 603.9,544.5 605.6,554.5 607.3,566.6 609.0,583.1 610.8,598.1 612.5,613.1 614.2,628.2 615.9,622.2 617.6,603.1 619.3,588.1 621.0,575.6 622.7,564.0 624.4,575.6 626.1,585.6 627.9,598.1 629.6,613.1 631.3,627.2 633.0,640.7 634.7,653.7 636.4,638.2 638.1,610.6 639.8,590.6 641.5,569.6 643.2,548.0 645.0,549.0 646.7,560.5 648.4,573.1 650.1,585.6 651.8,600.6 653.5,615.7 655.2,629.7 656.9,641.7 658.6,618.2 660.3,601.6 662.0,587.1 663.8,574.1 665.5,564.5"/>
<path fill="#0707c6" d="M414.1 504.4m-1.45 0a1.45 1.45 0 1 0 2.90 0a1.45 1.45 0 1 0 -2.90 0M415.8 505.4m-1.45 0a1.45 1.45 0 1 0 2.90 0a1.45 1.45 0 1 0 -2.90 0M417.5 507.4m-1.45 0a1.45 1.45 0 1 0 2.90 0a1.45 1.45 0 1 0 -2.90 0M419.2 509.9m-1.45 0a1.45 1.45 0 1 0 2.90 0a1.45 1.45 0 1 0 -2.90 0M420.9 512.4m-1.45 0a1.45 1.45 0 1 0 2.90 0a1.45 1.45 0 1 0 -2.90 0M422.7 515.5m-1.45 0a1.45 1.45 0 1 0 2.90 0a1.45 1.45 0 1 0 -2.90 0M424.4 518.0m-1.45 0a1.45 1.45 0 1 0 2.90 0a1.45 1.45 0 1 0 -2.90 0M426.1 520.0m-1.45 0a1.45 1.45 0 1 0 2.90 0a1.45 1.45 0 1 0 -2.90 0M427.8 520.5m-1.45 0a1.45 1.45 0 1 0 2.90 0a1.45 1.45 0 1 0 -2.90 0M429.5 518.0m-1.45 0a1.45 1.45 0 1 0 2.90 0a1.45 1.45 0 1 0 -2.90 0M431.2 511.4m-1.45 0a1.45 1.45 0 1 0 2.90 0a1.45 1.45 0 1 0 -2.90 0M432.9 506.9m-1.45 0a1.45 1.45 0 1 0 2.90 0a1.45 1.45 0 1 0 -2.90 0M434.6 508.4m-1.45 0a1.45 1.45 0 1 0 2.90 0a1.45 1.45 0 1 0 -2.90 0M436.3 511.9m-1.45 0a1.45 1.45 0 1 0 2.90 0a1.45 1.45 0 1 0 -2.90 0M438.0 516.5m-1.45 0a1.45 1.45 0 1 0 2.90 0a1.45 1.45 0 1 0 -2.90 0M439.8 520.5m-1.45 0a1.45 1.45 0 1 0 2.90 0a1.45 1.45 0 1 0 -2.90 0M441.5 524.0m-1.45 0a1.45 1.45 0 1 0 2.90 0a1.45 1.45 0 1 0 -2.90 0M443.2 527.5m-1.45 0a1.45 1.45 0 1 0 2.90 0a1.45 1.45 0 1 0 -2.90 0M444.9 530.5m-1.45 0a1.45 1.45 0 1 0 2.90 0a1.45 1.45 0 1 0 -2.90 0M446.6 533.0m-1.45 0a1.45 1.45 0 1 0 2.90 0a1.45 1.45 0 1 0 -2.90 0M448.3 535.0m-1.45 0a1.45 1.45 0 1 0 2.90 0a1.45 1.45 0 1 0 -2.90 0M450.0 537.0m-1.45 0a1.45 1.45 0 1 0 2.90 0a1.45 1.45 0 1 0 -2.90 0M451.7 539.5m-1.45 0a1.45 1.45 0 1 0 2.90 0a1.45 1.45 0 1 0 -2.90 0M453.4 542.5m-1.45 0a1.45 1.45 0 1 0 2.90 0a1.45 1.45 0 1 0 -2.90 0M455.1 547.0m-1.45 0a1.45 1.45 0 1 0 2.90 0a1.45 1.45 0 1 0 -2.90 0M456.9 554.5m-1.45 0a1.45 1.45 0 1 0 2.90 0a1.45 1.45 0 1 0 -2.90 0M458.6 564.5m-1.45 0a1.45 1.45 0 1 0 2.90 0a1.45 1.45 0 1 0 -2.90 0M460.3 574.1m-1.45 0a1.45 1.45 0 1 0 2.90 0a1.45 1.45 0 1 0 -2.90 0M462.0 586.1m-1.45 0a1.45 1.45 0 1 0 2.90 0a1.45 1.45 0 1 0 -2.90 0M463.7 598.1m-1.45 0a1.45 1.45 0 1 0 2.90 0a1.45 1.45 0 1 0 -2.90 0M465.4 609.6m-1.45 0a1.45 1.45 0 1 0 2.90 0a1.45 1.45 0 1 0 -2.90 0M467.1 617.7m-1.45 0a1.45 1.45 0 1 0 2.90 0a1.45 1.45 0 1 0 -2.90 0M468.8 600.1m-1.45 0a1.45 1.45 0 1 0 2.90 0a1.45 1.45 0 1 0 -2.90 0M470.5 579.6m-1.45 0a1.45 1.45 0 1 0 2.90 0a1.45 1.45 0 1 0 -2.90 0M472.2 564.0m-1.45 0a1.45 1.45 0 1 0 2.90 0a1.45 1.45 0 1 0 -2.90 0M474.0 549.5m-1.45 0a1.45 1.45 0 1 0 2.90 0a1.45 1.45 0 1 0 -2.90 0M475.7 540.0m-1.45 0a1.45 1.45 0 1 0 2.90 0a1.45 1.45 0 1 0 -2.90 0M477.4 552.0m-1.45 0a1.45 1.45 0 1 0 2.90 0a1.45 1.45 0 1 0 -2.90 0M479.1 560.0m-1.45 0a1.45 1.45 0 1 0 2.90 0a1.45 1.45 0 1 0 -2.90 0M480.8 572.6m-1.45 0a1.45 1.45 0 1 0 2.90 0a1.45 1.45 0 1 0 -2.90 0M482.5 585.1m-1.45 0a1.45 1.45 0 1 0 2.90 0a1.45 1.45 0 1 0 -2.90 0M484.2 597.1m-1.45 0a1.45 1.45 0 1 0 2.90 0a1.45 1.45 0 1 0 -2.90 0M485.9 606.1m-1.45 0a1.45 1.45 0 1 0 2.90 0a1.45 1.45 0 1 0 -2.90 0M487.6 612.6m-1.45 0a1.45 1.45 0 1 0 2.90 0a1.45 1.45 0 1 0 -2.90 0M489.3 619.7m-1.45 0a1.45 1.45 0 1 0 2.90 0a1.45 1.45 0 1 0 -2.90 0M491.1 606.6m-1.45 0a1.45 1.45 0 1 0 2.90 0a1.45 1.45 0 1 0 -2.90 0M492.8 593.6m-1.45 0a1.45 1.45 0 1 0 2.90 0a1.45 1.45 0 1 0 -2.90 0M494.5 586.1m-1.45 0a1.45 1.45 0 1 0 2.90 0a1.45 1.45 0 1 0 -2.90 0M496.2 580.6m-1.45 0a1.45 1.45 0 1 0 2.90 0a1.45 1.45 0 1 0 -2.90 0M497.9 585.6m-1.45 0a1.45 1.45 0 1 0 2.90 0a1.45 1.45 0 1 0 -2.90 0M499.6 589.6m-1.45 0a1.45 1.45 0 1 0 2.90 0a1.45 1.45 0 1 0 -2.90 0M501.3 596.6m-1.45 0a1.45 1.45 0 1 0 2.90 0a1.45 1.45 0 1 0 -2.90 0M503.0 604.1m-1.45 0a1.45 1.45 0 1 0 2.90 0a1.45 1.45 0 1 0 -2.90 0M504.7 609.6m-1.45 0a1.45 1.45 0 1 0 2.90 0a1.45 1.45 0 1 0 -2.90 0M506.4 613.1m-1.45 0a1.45 1.45 0 1 0 2.90 0a1.45 1.45 0 1 0 -2.90 0M508.2 615.7m-1.45 0a1.45 1.45 0 1 0 2.90 0a1.45 1.45 0 1 0 -2.90 0M509.9 618.7m-1.45 0a1.45 1.45 0 1 0 2.90 0a1.45 1.45 0 1 0 -2.90 0M511.6 596.6m-1.45 0a1.45 1.45 0 1 0 2.90 0a1.45 1.45 0 1 0 -2.90 0M513.3 580.6m-1.45 0a1.45 1.45 0 1 0 2.90 0a1.45 1.45 0 1 0 -2.90 0M515.0 563.0m-1.45 0a1.45 1.45 0 1 0 2.90 0a1.45 1.45 0 1 0 -2.90 0M516.7 543.0m-1.45 0a1.45 1.45 0 1 0 2.90 0a1.45 1.45 0 1 0 -2.90 0M518.4 536.0m-1.45 0a1.45 1.45 0 1 0 2.90 0a1.45 1.45 0 1 0 -2.90 0M520.1 547.0m-1.45 0a1.45 1.45 0 1 0 2.90 0a1.45 1.45 0 1 0 -2.90 0M521.8 557.0m-1.45 0a1.45 1.45 0 1 0 2.90 0a1.45 1.45 0 1 0 -2.90 0M523.5 569.6m-1.45 0a1.45 1.45 0 1 0 2.90 0a1.45 1.45 0 1 0 -2.90 0M525.2 583.1m-1.45 0a1.45 1.45 0 1 0 2.90 0a1.45 1.45 0 1 0 -2.90 0M527.0 596.6m-1.45 0a1.45 1.45 0 1 0 2.90 0a1.45 1.45 0 1 0 -2.90 0M528.7 609.6m-1.45 0a1.45 1.45 0 1 0 2.90 0a1.45 1.45 0 1 0 -2.90 0M530.4 622.2m-1.45 0a1.45 1.45 0 1 0 2.90 0a1.45 1.45 0 1 0 -2.90 0M532.1 617.7m-1.45 0a1.45 1.45 0 1 0 2.90 0a1.45 1.45 0 1 0 -2.90 0M533.8 598.1m-1.45 0a1.45 1.45 0 1 0 2.90 0a1.45 1.45 0 1 0 -2.90 0M535.5 584.6m-1.45 0a1.45 1.45 0 1 0 2.90 0a1.45 1.45 0 1 0 -2.90 0M537.2 574.1m-1.45 0a1.45 1.45 0 1 0 2.90 0a1.45 1.45 0 1 0 -2.90 0M538.9 571.6m-1.45 0a1.45 1.45 0 1 0 2.90 0a1.45 1.45 0 1 0 -2.90 0M540.6 584.6m-1.45 0a1.45 1.45 0 1 0 2.90 0a1.45 1.45 0 1 0 -2.90 0M542.4 591.6m-1.45 0a1.45 1.45 0 1 0 2.90 0a1.45 1.45 0 1 0 -2.90 0M544.1 603.1m-1.45 0a1.45 1.45 0 1 0 2.90 0a1.45 1.45 0 1 0 -2.90 0M545.8 613.1m-1.45 0a1.45 1.45 0 1 0 2.90 0a1.45 1.45 0 1 0 -2.90 0M547.5 627.2m-1.45 0a1.45 1.45 0 1 0 2.90 0a1.45 1.45 0 1 0 -2.90 0M549.2 640.7m-1.45 0a1.45 1.45 0 1 0 2.90 0a1.45 1.45 0 1 0 -2.90 0M550.9 649.2m-1.45 0a1.45 1.45 0 1 0 2.90 0a1.45 1.45 0 1 0 -2.90 0M552.6 618.2m-1.45 0a1.45 1.45 0 1 0 2.90 0a1.45 1.45 0 1 0 -2.90 0M554.3 595.6m-1.45 0a1.45 1.45 0 1 0 2.90 0a1.45 1.45 0 1 0 -2.90 0M556.0 573.1m-1.45 0a1.45 1.45 0 1 0 2.90 0a1.45 1.45 0 1 0 -2.90 0M557.7 555.5m-1.45 0a1.45 1.45 0 1 0 2.90 0a1.45 1.45 0 1 0 -2.90 0M559.5 535.5m-1.45 0a1.45 1.45 0 1 0 2.90 0a1.45 1.45 0 1 0 -2.90 0M561.2 534.0m-1.45 0a1.45 1.45 0 1 0 2.90 0a1.45 1.45 0 1 0 -2.90 0M562.9 545.5m-1.45 0a1.45 1.45 0 1 0 2.90 0a1.45 1.45 0 1 0 -2.90 0M564.6 556.5m-1.45 0a1.45 1.45 0 1 0 2.90 0a1.45 1.45 0 1 0 -2.90 0M566.3 571.6m-1.45 0a1.45 1.45 0 1 0 2.90 0a1.45 1.45 0 1 0 -2.90 0M568.0 585.6m-1.45 0a1.45 1.45 0 1 0 2.90 0a1.45 1.45 0 1 0 -2.90 0M569.7 600.6m-1.45 0a1.45 1.45 0 1 0 2.90 0a1.45 1.45 0 1 0 -2.90 0M571.4 615.7m-1.45 0a1.45 1.45 0 1 0 2.90 0a1.45 1.45 0 1 0 -2.90 0M573.1 623.2m-1.45 0a1.45 1.45 0 1 0 2.90 0a1.45 1.45 0 1 0 -2.90 0M574.8 600.6m-1.45 0a1.45 1.45 0 1 0 2.90 0a1.45 1.45 0 1 0 -2.90 0M576.5 588.1m-1.45 0a1.45 1.45 0 1 0 2.90 0a1.45 1.45 0 1 0 -2.90 0M578.3 575.6m-1.45 0a1.45 1.45 0 1 0 2.90 0a1.45 1.45 0 1 0 -2.90 0M580.0 565.0m-1.45 0a1.45 1.45 0 1 0 2.90 0a1.45 1.45 0 1 0 -2.90 0M581.7 568.6m-1.45 0a1.45 1.45 0 1 0 2.90 0a1.45 1.45 0 1 0 -2.90 0M583.4 580.6m-1.45 0a1.45 1.45 0 1 0 2.90 0a1.45 1.45 0 1 0 -2.90 0M585.1 590.6m-1.45 0a1.45 1.45 0 1 0 2.90 0a1.45 1.45 0 1 0 -2.90 0M586.8 600.6m-1.45 0a1.45 1.45 0 1 0 2.90 0a1.45 1.45 0 1 0 -2.90 0M588.5 610.6m-1.45 0a1.45 1.45 0 1 0 2.90 0a1.45 1.45 0 1 0 -2.90 0M590.2 623.2m-1.45 0a1.45 1.45 0 1 0 2.90 0a1.45 1.45 0 1 0 -2.90 0M591.9 636.7m-1.45 0a1.45 1.45 0 1 0 2.90 0a1.45 1.45 0 1 0 -2.90 0M593.6 640.7m-1.45 0a1.45 1.45 0 1 0 2.90 0a1.45 1.45 0 1 0 -2.90 0M595.4 610.6m-1.45 0a1.45 1.45 0 1 0 2.90 0a1.45 1.45 0 1 0 -2.90 0M597.1 590.6m-1.45 0a1.45 1.45 0 1 0 2.90 0a1.45 1.45 0 1 0 -2.90 0M598.8 568.1m-1.45 0a1.45 1.45 0 1 0 2.90 0a1.45 1.45 0 1 0 -2.90 0M600.5 545.5m-1.45 0a1.45 1.45 0 1 0 2.90 0a1.45 1.45 0 1 0 -2.90 0M602.2 534.0m-1.45 0a1.45 1.45 0 1 0 2.90 0a1.45 1.45 0 1 0 -2.90 0M603.9 544.5m-1.45 0a1.45 1.45 0 1 0 2.90 0a1.45 1.45 0 1 0 -2.90 0M605.6 554.5m-1.45 0a1.45 1.45 0 1 0 2.90 0a1.45 1.45 0 1 0 -2.90 0M607.3 566.6m-1.45 0a1.45 1.45 0 1 0 2.90 0a1.45 1.45 0 1 0 -2.90 0M609.0 583.1m-1.45 0a1.45 1.45 0 1 0 2.90 0a1.45 1.45 0 1 0 -2.90 0M610.8 598.1m-1.45 0a1.45 1.45 0 1 0 2.90 0a1.45 1.45 0 1 0 -2.90 0M612.5 613.1m-1.45 0a1.45 1.45 0 1 0 2.90 0a1.45 1.45 0 1 0 -2.90 0M614.2 628.2m-1.45 0a1.45 1.45 0 1 0 2.90 0a1.45 1.45 0 1 0 -2.90 0M615.9 622.2m-1.45 0a1.45 1.45 0 1 0 2.90 0a1.45 1.45 0 1 0 -2.90 0M617.6 603.1m-1.45 0a1.45 1.45 0 1 0 2.90 0a1.45 1.45 0 1 0 -2.90 0M619.3 588.1m-1.45 0a1.45 1.45 0 1 0 2.90 0a1.45 1.45 0 1 0 -2.90 0M621.0 575.6m-1.45 0a1.45 1.45 0 1 0 2.90 0a1.45 1.45 0 1 0 -2.90 0M622.7 564.0m-1.45 0a1.45 1.45 0 1 0 2.90 0a1.45 1.45 0 1 0 -2.90 0M624.4 575.6m-1.45 0a1.45 1.45 0 1 0 2.90 0a1.45 1.45 0 1 0 -2.90 0M626.1 585.6m-1.45 0a1.45 1.45 0 1 0 2.90 0a1.45 1.45 0 1 0 -2.90 0M627.9 598.1m-1.45 0a1.45 1.45 0 1 0 2.90 0a1.45 1.45 0 1 0 -2.90 0M629.6 613.1m-1.45 0a1.45 1.45 0 1 0 2.90 0a1.45 1.45 0 1 0 -2.90 0M631.3 627.2m-1.45 0a1.45 1.45 0 1 0 2.90 0a1.45 1.45 0 1 0 -2.90 0M633.0 640.7m-1.45 0a1.45 1.45 0 1 0 2.90 0a1.45 1.45 0 1 0 -2.90 0M634.7 653.7m-1.45 0a1.45 1.45 0 1 0 2.90 0a1.45 1.45 0 1 0 -2.90 0M636.4 638.2m-1.45 0a1.45 1.45 0 1 0 2.90 0a1.45 1.45 0 1 0 -2.90 0M638.1 610.6m-1.45 0a1.45 1.45 0 1 0 2.90 0a1.45 1.45 0 1 0 -2.90 0M639.8 590.6m-1.45 0a1.45 1.45 0 1 0 2.90 0a1.45 1.45 0 1 0 -2.90 0M641.5 569.6m-1.45 0a1.45 1.45 0 1 0 2.90 0a1.45 1.45 0 1 0 -2.90 0M643.2 548.0m-1.45 0a1.45 1.45 0 1 0 2.90 0a1.45 1.45 0 1 0 -2.90 0M645.0 549.0m-1.45 0a1.45 1.45 0 1 0 2.90 0a1.45 1.45 0 1 0 -2.90 0M646.7 560.5m-1.45 0a1.45 1.45 0 1 0 2.90 0a1.45 1.45 0 1 0 -2.90 0M648.4 573.1m-1.45 0a1.45 1.45 0 1 0 2.90 0a1.45 1.45 0 1 0 -2.90 0M650.1 585.6m-1.45 0a1.45 1.45 0 1 0 2.90 0a1.45 1.45 0 1 0 -2.90 0M651.8 600.6m-1.45 0a1.45 1.45 0 1 0 2.90 0a1.45 1.45 0 1 0 -2.90 0M653.5 615.7m-1.45 0a1.45 1.45 0 1 0 2.90 0a1.45 1.45 0 1 0 -2.90 0M655.2 629.7m-1.45 0a1.45 1.45 0 1 0 2.90 0a1.45 1.45 0 1 0 -2.90 0M656.9 641.7m-1.45 0a1.45 1.45 0 1 0 2.90 0a1.45 1.45 0 1 0 -2.90 0M658.6 618.2m-1.45 0a1.45 1.45 0 1 0 2.90 0a1.45 1.45 0 1 0 -2.90 0M660.3 601.6m-1.45 0a1.45 1.45 0 1 0 2.90 0a1.45 1.45 0 1 0 -2.90 0M662.0 587.1m-1.45 0a1.45 1.45 0 1 0 2.90 0a1.45 1.45 0 1 0 -2.90 0M663.8 574.1m-1.45 0a1.45 1.45 0 1 0 2.90 0a1.45 1.45 0 1 0 -2.90 0M665.5 564.5m-1.45 0a1.45 1.45 0 1 0 2.90 0a1.45 1.45 0 1 0 -2.90 0"/>
<polyline fill="none" stroke="#e2161c" stroke-width="0.85" stroke-linejoin="round" points="414.1,504.4 415.8,506.4 417.5,508.4 419.2,510.4 420.9,513.4 422.7,516.5 424.4,519.5 426.1,521.0 427.8,521.0 429.5,517.0 431.2,510.4 432.9,505.9 434.6,507.4 436.3,512.4 438.0,517.5 439.8,521.5 441.5,525.5 443.2,529.5 444.9,533.0 446.6,535.5 448.3,537.0 450.0,536.5 451.7,537.5 453.4,540.5 455.1,544.5 456.9,547.0 458.6,550.5 460.3,553.0 462.0,555.5 463.7,561.5 465.4,568.1 467.1,569.1 468.8,567.1 470.5,564.5 472.2,553.0 474.0,540.5 475.7,534.5 477.4,534.0 479.1,545.5 480.8,553.0 482.5,560.5 484.2,565.6 485.9,574.1 487.6,582.1 489.3,588.1 491.1,591.6 492.8,588.1 494.5,583.1 496.2,574.6 497.9,575.6 499.6,583.1 501.3,586.6 503.0,591.6 504.7,598.1 506.4,605.6 508.2,610.6 509.9,613.1 511.6,595.6 513.3,578.1 515.0,560.5 516.7,541.5 518.4,537.0 520.1,548.0 521.8,558.0 523.5,569.6 525.2,581.6 527.0,594.6 528.7,605.6 530.4,610.6 532.1,608.1 533.8,593.1 535.5,583.1 537.2,575.6 538.9,578.1 540.6,584.6 542.4,593.1 544.1,601.6 545.8,611.6 547.5,623.2 549.2,635.7 550.9,639.2 552.6,615.7 554.3,594.6 556.0,573.1 557.7,554.5 559.5,538.0 561.2,538.0 562.9,548.0 564.6,559.5 566.3,573.1 568.0,585.6 569.7,599.6 571.4,611.6 573.1,616.7 574.8,599.6 576.5,588.1 578.3,576.6 580.0,569.6 581.7,571.6 583.4,581.6 585.1,590.6 586.8,600.6 588.5,609.6 590.2,620.7 591.9,635.7 593.6,640.7 595.4,613.1 597.1,591.6 598.8,569.6 600.5,548.0 602.2,540.5 603.9,545.5 605.6,554.5 607.3,565.6 609.0,580.6 610.8,594.6 612.5,608.1 614.2,618.2 615.9,615.7 617.6,600.6 619.3,586.6 621.0,575.6 622.7,570.6 624.4,575.6 626.1,584.6 627.9,596.6 629.6,609.6 631.3,620.7 633.0,630.7 634.7,639.2 636.4,637.2 638.1,613.1 639.8,591.6 641.5,570.6 643.2,550.5 645.0,545.5 646.7,558.0 648.4,570.6 650.1,583.1 651.8,596.6 653.5,609.6 655.2,619.7 656.9,625.7 658.6,619.7 660.3,603.1 662.0,588.1 663.8,575.6 665.5,568.1"/>
<path fill="#e2161c" d="M414.1 504.4m-1.15 0a1.15 1.15 0 1 0 2.30 0a1.15 1.15 0 1 0 -2.30 0M415.8 506.4m-1.15 0a1.15 1.15 0 1 0 2.30 0a1.15 1.15 0 1 0 -2.30 0M417.5 508.4m-1.15 0a1.15 1.15 0 1 0 2.30 0a1.15 1.15 0 1 0 -2.30 0M419.2 510.4m-1.15 0a1.15 1.15 0 1 0 2.30 0a1.15 1.15 0 1 0 -2.30 0M420.9 513.4m-1.15 0a1.15 1.15 0 1 0 2.30 0a1.15 1.15 0 1 0 -2.30 0M422.7 516.5m-1.15 0a1.15 1.15 0 1 0 2.30 0a1.15 1.15 0 1 0 -2.30 0M424.4 519.5m-1.15 0a1.15 1.15 0 1 0 2.30 0a1.15 1.15 0 1 0 -2.30 0M426.1 521.0m-1.15 0a1.15 1.15 0 1 0 2.30 0a1.15 1.15 0 1 0 -2.30 0M427.8 521.0m-1.15 0a1.15 1.15 0 1 0 2.30 0a1.15 1.15 0 1 0 -2.30 0M429.5 517.0m-1.15 0a1.15 1.15 0 1 0 2.30 0a1.15 1.15 0 1 0 -2.30 0M431.2 510.4m-1.15 0a1.15 1.15 0 1 0 2.30 0a1.15 1.15 0 1 0 -2.30 0M432.9 505.9m-1.15 0a1.15 1.15 0 1 0 2.30 0a1.15 1.15 0 1 0 -2.30 0M434.6 507.4m-1.15 0a1.15 1.15 0 1 0 2.30 0a1.15 1.15 0 1 0 -2.30 0M436.3 512.4m-1.15 0a1.15 1.15 0 1 0 2.30 0a1.15 1.15 0 1 0 -2.30 0M438.0 517.5m-1.15 0a1.15 1.15 0 1 0 2.30 0a1.15 1.15 0 1 0 -2.30 0M439.8 521.5m-1.15 0a1.15 1.15 0 1 0 2.30 0a1.15 1.15 0 1 0 -2.30 0M441.5 525.5m-1.15 0a1.15 1.15 0 1 0 2.30 0a1.15 1.15 0 1 0 -2.30 0M443.2 529.5m-1.15 0a1.15 1.15 0 1 0 2.30 0a1.15 1.15 0 1 0 -2.30 0M444.9 533.0m-1.15 0a1.15 1.15 0 1 0 2.30 0a1.15 1.15 0 1 0 -2.30 0M446.6 535.5m-1.15 0a1.15 1.15 0 1 0 2.30 0a1.15 1.15 0 1 0 -2.30 0M448.3 537.0m-1.15 0a1.15 1.15 0 1 0 2.30 0a1.15 1.15 0 1 0 -2.30 0M450.0 536.5m-1.15 0a1.15 1.15 0 1 0 2.30 0a1.15 1.15 0 1 0 -2.30 0M451.7 537.5m-1.15 0a1.15 1.15 0 1 0 2.30 0a1.15 1.15 0 1 0 -2.30 0M453.4 540.5m-1.15 0a1.15 1.15 0 1 0 2.30 0a1.15 1.15 0 1 0 -2.30 0M455.1 544.5m-1.15 0a1.15 1.15 0 1 0 2.30 0a1.15 1.15 0 1 0 -2.30 0M456.9 547.0m-1.15 0a1.15 1.15 0 1 0 2.30 0a1.15 1.15 0 1 0 -2.30 0M458.6 550.5m-1.15 0a1.15 1.15 0 1 0 2.30 0a1.15 1.15 0 1 0 -2.30 0M460.3 553.0m-1.15 0a1.15 1.15 0 1 0 2.30 0a1.15 1.15 0 1 0 -2.30 0M462.0 555.5m-1.15 0a1.15 1.15 0 1 0 2.30 0a1.15 1.15 0 1 0 -2.30 0M463.7 561.5m-1.15 0a1.15 1.15 0 1 0 2.30 0a1.15 1.15 0 1 0 -2.30 0M465.4 568.1m-1.15 0a1.15 1.15 0 1 0 2.30 0a1.15 1.15 0 1 0 -2.30 0M467.1 569.1m-1.15 0a1.15 1.15 0 1 0 2.30 0a1.15 1.15 0 1 0 -2.30 0M468.8 567.1m-1.15 0a1.15 1.15 0 1 0 2.30 0a1.15 1.15 0 1 0 -2.30 0M470.5 564.5m-1.15 0a1.15 1.15 0 1 0 2.30 0a1.15 1.15 0 1 0 -2.30 0M472.2 553.0m-1.15 0a1.15 1.15 0 1 0 2.30 0a1.15 1.15 0 1 0 -2.30 0M474.0 540.5m-1.15 0a1.15 1.15 0 1 0 2.30 0a1.15 1.15 0 1 0 -2.30 0M475.7 534.5m-1.15 0a1.15 1.15 0 1 0 2.30 0a1.15 1.15 0 1 0 -2.30 0M477.4 534.0m-1.15 0a1.15 1.15 0 1 0 2.30 0a1.15 1.15 0 1 0 -2.30 0M479.1 545.5m-1.15 0a1.15 1.15 0 1 0 2.30 0a1.15 1.15 0 1 0 -2.30 0M480.8 553.0m-1.15 0a1.15 1.15 0 1 0 2.30 0a1.15 1.15 0 1 0 -2.30 0M482.5 560.5m-1.15 0a1.15 1.15 0 1 0 2.30 0a1.15 1.15 0 1 0 -2.30 0M484.2 565.6m-1.15 0a1.15 1.15 0 1 0 2.30 0a1.15 1.15 0 1 0 -2.30 0M485.9 574.1m-1.15 0a1.15 1.15 0 1 0 2.30 0a1.15 1.15 0 1 0 -2.30 0M487.6 582.1m-1.15 0a1.15 1.15 0 1 0 2.30 0a1.15 1.15 0 1 0 -2.30 0M489.3 588.1m-1.15 0a1.15 1.15 0 1 0 2.30 0a1.15 1.15 0 1 0 -2.30 0M491.1 591.6m-1.15 0a1.15 1.15 0 1 0 2.30 0a1.15 1.15 0 1 0 -2.30 0M492.8 588.1m-1.15 0a1.15 1.15 0 1 0 2.30 0a1.15 1.15 0 1 0 -2.30 0M494.5 583.1m-1.15 0a1.15 1.15 0 1 0 2.30 0a1.15 1.15 0 1 0 -2.30 0M496.2 574.6m-1.15 0a1.15 1.15 0 1 0 2.30 0a1.15 1.15 0 1 0 -2.30 0M497.9 575.6m-1.15 0a1.15 1.15 0 1 0 2.30 0a1.15 1.15 0 1 0 -2.30 0M499.6 583.1m-1.15 0a1.15 1.15 0 1 0 2.30 0a1.15 1.15 0 1 0 -2.30 0M501.3 586.6m-1.15 0a1.15 1.15 0 1 0 2.30 0a1.15 1.15 0 1 0 -2.30 0M503.0 591.6m-1.15 0a1.15 1.15 0 1 0 2.30 0a1.15 1.15 0 1 0 -2.30 0M504.7 598.1m-1.15 0a1.15 1.15 0 1 0 2.30 0a1.15 1.15 0 1 0 -2.30 0M506.4 605.6m-1.15 0a1.15 1.15 0 1 0 2.30 0a1.15 1.15 0 1 0 -2.30 0M508.2 610.6m-1.15 0a1.15 1.15 0 1 0 2.30 0a1.15 1.15 0 1 0 -2.30 0M509.9 613.1m-1.15 0a1.15 1.15 0 1 0 2.30 0a1.15 1.15 0 1 0 -2.30 0M511.6 595.6m-1.15 0a1.15 1.15 0 1 0 2.30 0a1.15 1.15 0 1 0 -2.30 0M513.3 578.1m-1.15 0a1.15 1.15 0 1 0 2.30 0a1.15 1.15 0 1 0 -2.30 0M515.0 560.5m-1.15 0a1.15 1.15 0 1 0 2.30 0a1.15 1.15 0 1 0 -2.30 0M516.7 541.5m-1.15 0a1.15 1.15 0 1 0 2.30 0a1.15 1.15 0 1 0 -2.30 0M518.4 537.0m-1.15 0a1.15 1.15 0 1 0 2.30 0a1.15 1.15 0 1 0 -2.30 0M520.1 548.0m-1.15 0a1.15 1.15 0 1 0 2.30 0a1.15 1.15 0 1 0 -2.30 0M521.8 558.0m-1.15 0a1.15 1.15 0 1 0 2.30 0a1.15 1.15 0 1 0 -2.30 0M523.5 569.6m-1.15 0a1.15 1.15 0 1 0 2.30 0a1.15 1.15 0 1 0 -2.30 0M525.2 581.6m-1.15 0a1.15 1.15 0 1 0 2.30 0a1.15 1.15 0 1 0 -2.30 0M527.0 594.6m-1.15 0a1.15 1.15 0 1 0 2.30 0a1.15 1.15 0 1 0 -2.30 0M528.7 605.6m-1.15 0a1.15 1.15 0 1 0 2.30 0a1.15 1.15 0 1 0 -2.30 0M530.4 610.6m-1.15 0a1.15 1.15 0 1 0 2.30 0a1.15 1.15 0 1 0 -2.30 0M532.1 608.1m-1.15 0a1.15 1.15 0 1 0 2.30 0a1.15 1.15 0 1 0 -2.30 0M533.8 593.1m-1.15 0a1.15 1.15 0 1 0 2.30 0a1.15 1.15 0 1 0 -2.30 0M535.5 583.1m-1.15 0a1.15 1.15 0 1 0 2.30 0a1.15 1.15 0 1 0 -2.30 0M537.2 575.6m-1.15 0a1.15 1.15 0 1 0 2.30 0a1.15 1.15 0 1 0 -2.30 0M538.9 578.1m-1.15 0a1.15 1.15 0 1 0 2.30 0a1.15 1.15 0 1 0 -2.30 0M540.6 584.6m-1.15 0a1.15 1.15 0 1 0 2.30 0a1.15 1.15 0 1 0 -2.30 0M542.4 593.1m-1.15 0a1.15 1.15 0 1 0 2.30 0a1.15 1.15 0 1 0 -2.30 0M544.1 601.6m-1.15 0a1.15 1.15 0 1 0 2.30 0a1.15 1.15 0 1 0 -2.30 0M545.8 611.6m-1.15 0a1.15 1.15 0 1 0 2.30 0a1.15 1.15 0 1 0 -2.30 0M547.5 623.2m-1.15 0a1.15 1.15 0 1 0 2.30 0a1.15 1.15 0 1 0 -2.30 0M549.2 635.7m-1.15 0a1.15 1.15 0 1 0 2.30 0a1.15 1.15 0 1 0 -2.30 0M550.9 639.2m-1.15 0a1.15 1.15 0 1 0 2.30 0a1.15 1.15 0 1 0 -2.30 0M552.6 615.7m-1.15 0a1.15 1.15 0 1 0 2.30 0a1.15 1.15 0 1 0 -2.30 0M554.3 594.6m-1.15 0a1.15 1.15 0 1 0 2.30 0a1.15 1.15 0 1 0 -2.30 0M556.0 573.1m-1.15 0a1.15 1.15 0 1 0 2.30 0a1.15 1.15 0 1 0 -2.30 0M557.7 554.5m-1.15 0a1.15 1.15 0 1 0 2.30 0a1.15 1.15 0 1 0 -2.30 0M559.5 538.0m-1.15 0a1.15 1.15 0 1 0 2.30 0a1.15 1.15 0 1 0 -2.30 0M561.2 538.0m-1.15 0a1.15 1.15 0 1 0 2.30 0a1.15 1.15 0 1 0 -2.30 0M562.9 548.0m-1.15 0a1.15 1.15 0 1 0 2.30 0a1.15 1.15 0 1 0 -2.30 0M564.6 559.5m-1.15 0a1.15 1.15 0 1 0 2.30 0a1.15 1.15 0 1 0 -2.30 0M566.3 573.1m-1.15 0a1.15 1.15 0 1 0 2.30 0a1.15 1.15 0 1 0 -2.30 0M568.0 585.6m-1.15 0a1.15 1.15 0 1 0 2.30 0a1.15 1.15 0 1 0 -2.30 0M569.7 599.6m-1.15 0a1.15 1.15 0 1 0 2.30 0a1.15 1.15 0 1 0 -2.30 0M571.4 611.6m-1.15 0a1.15 1.15 0 1 0 2.30 0a1.15 1.15 0 1 0 -2.30 0M573.1 616.7m-1.15 0a1.15 1.15 0 1 0 2.30 0a1.15 1.15 0 1 0 -2.30 0M574.8 599.6m-1.15 0a1.15 1.15 0 1 0 2.30 0a1.15 1.15 0 1 0 -2.30 0M576.5 588.1m-1.15 0a1.15 1.15 0 1 0 2.30 0a1.15 1.15 0 1 0 -2.30 0M578.3 576.6m-1.15 0a1.15 1.15 0 1 0 2.30 0a1.15 1.15 0 1 0 -2.30 0M580.0 569.6m-1.15 0a1.15 1.15 0 1 0 2.30 0a1.15 1.15 0 1 0 -2.30 0M581.7 571.6m-1.15 0a1.15 1.15 0 1 0 2.30 0a1.15 1.15 0 1 0 -2.30 0M583.4 581.6m-1.15 0a1.15 1.15 0 1 0 2.30 0a1.15 1.15 0 1 0 -2.30 0M585.1 590.6m-1.15 0a1.15 1.15 0 1 0 2.30 0a1.15 1.15 0 1 0 -2.30 0M586.8 600.6m-1.15 0a1.15 1.15 0 1 0 2.30 0a1.15 1.15 0 1 0 -2.30 0M588.5 609.6m-1.15 0a1.15 1.15 0 1 0 2.30 0a1.15 1.15 0 1 0 -2.30 0M590.2 620.7m-1.15 0a1.15 1.15 0 1 0 2.30 0a1.15 1.15 0 1 0 -2.30 0M591.9 635.7m-1.15 0a1.15 1.15 0 1 0 2.30 0a1.15 1.15 0 1 0 -2.30 0M593.6 640.7m-1.15 0a1.15 1.15 0 1 0 2.30 0a1.15 1.15 0 1 0 -2.30 0M595.4 613.1m-1.15 0a1.15 1.15 0 1 0 2.30 0a1.15 1.15 0 1 0 -2.30 0M597.1 591.6m-1.15 0a1.15 1.15 0 1 0 2.30 0a1.15 1.15 0 1 0 -2.30 0M598.8 569.6m-1.15 0a1.15 1.15 0 1 0 2.30 0a1.15 1.15 0 1 0 -2.30 0M600.5 548.0m-1.15 0a1.15 1.15 0 1 0 2.30 0a1.15 1.15 0 1 0 -2.30 0M602.2 540.5m-1.15 0a1.15 1.15 0 1 0 2.30 0a1.15 1.15 0 1 0 -2.30 0M603.9 545.5m-1.15 0a1.15 1.15 0 1 0 2.30 0a1.15 1.15 0 1 0 -2.30 0M605.6 554.5m-1.15 0a1.15 1.15 0 1 0 2.30 0a1.15 1.15 0 1 0 -2.30 0M607.3 565.6m-1.15 0a1.15 1.15 0 1 0 2.30 0a1.15 1.15 0 1 0 -2.30 0M609.0 580.6m-1.15 0a1.15 1.15 0 1 0 2.30 0a1.15 1.15 0 1 0 -2.30 0M610.8 594.6m-1.15 0a1.15 1.15 0 1 0 2.30 0a1.15 1.15 0 1 0 -2.30 0M612.5 608.1m-1.15 0a1.15 1.15 0 1 0 2.30 0a1.15 1.15 0 1 0 -2.30 0M614.2 618.2m-1.15 0a1.15 1.15 0 1 0 2.30 0a1.15 1.15 0 1 0 -2.30 0M615.9 615.7m-1.15 0a1.15 1.15 0 1 0 2.30 0a1.15 1.15 0 1 0 -2.30 0M617.6 600.6m-1.15 0a1.15 1.15 0 1 0 2.30 0a1.15 1.15 0 1 0 -2.30 0M619.3 586.6m-1.15 0a1.15 1.15 0 1 0 2.30 0a1.15 1.15 0 1 0 -2.30 0M621.0 575.6m-1.15 0a1.15 1.15 0 1 0 2.30 0a1.15 1.15 0 1 0 -2.30 0M622.7 570.6m-1.15 0a1.15 1.15 0 1 0 2.30 0a1.15 1.15 0 1 0 -2.30 0M624.4 575.6m-1.15 0a1.15 1.15 0 1 0 2.30 0a1.15 1.15 0 1 0 -2.30 0M626.1 584.6m-1.15 0a1.15 1.15 0 1 0 2.30 0a1.15 1.15 0 1 0 -2.30 0M627.9 596.6m-1.15 0a1.15 1.15 0 1 0 2.30 0a1.15 1.15 0 1 0 -2.30 0M629.6 609.6m-1.15 0a1.15 1.15 0 1 0 2.30 0a1.15 1.15 0 1 0 -2.30 0M631.3 620.7m-1.15 0a1.15 1.15 0 1 0 2.30 0a1.15 1.15 0 1 0 -2.30 0M633.0 630.7m-1.15 0a1.15 1.15 0 1 0 2.30 0a1.15 1.15 0 1 0 -2.30 0M634.7 639.2m-1.15 0a1.15 1.15 0 1 0 2.30 0a1.15 1.15 0 1 0 -2.30 0M636.4 637.2m-1.15 0a1.15 1.15 0 1 0 2.30 0a1.15 1.15 0 1 0 -2.30 0M638.1 613.1m-1.15 0a1.15 1.15 0 1 0 2.30 0a1.15 1.15 0 1 0 -2.30 0M639.8 591.6m-1.15 0a1.15 1.15 0 1 0 2.30 0a1.15 1.15 0 1 0 -2.30 0M641.5 570.6m-1.15 0a1.15 1.15 0 1 0 2.30 0a1.15 1.15 0 1 0 -2.30 0M643.2 550.5m-1.15 0a1.15 1.15 0 1 0 2.30 0a1.15 1.15 0 1 0 -2.30 0M645.0 545.5m-1.15 0a1.15 1.15 0 1 0 2.30 0a1.15 1.15 0 1 0 -2.30 0M646.7 558.0m-1.15 0a1.15 1.15 0 1 0 2.30 0a1.15 1.15 0 1 0 -2.30 0M648.4 570.6m-1.15 0a1.15 1.15 0 1 0 2.30 0a1.15 1.15 0 1 0 -2.30 0M650.1 583.1m-1.15 0a1.15 1.15 0 1 0 2.30 0a1.15 1.15 0 1 0 -2.30 0M651.8 596.6m-1.15 0a1.15 1.15 0 1 0 2.30 0a1.15 1.15 0 1 0 -2.30 0M653.5 609.6m-1.15 0a1.15 1.15 0 1 0 2.30 0a1.15 1.15 0 1 0 -2.30 0M655.2 619.7m-1.15 0a1.15 1.15 0 1 0 2.30 0a1.15 1.15 0 1 0 -2.30 0M656.9 625.7m-1.15 0a1.15 1.15 0 1 0 2.30 0a1.15 1.15 0 1 0 -2.30 0M658.6 619.7m-1.15 0a1.15 1.15 0 1 0 2.30 0a1.15 1.15 0 1 0 -2.30 0M660.3 603.1m-1.15 0a1.15 1.15 0 1 0 2.30 0a1.15 1.15 0 1 0 -2.30 0M662.0 588.1m-1.15 0a1.15 1.15 0 1 0 2.30 0a1.15 1.15 0 1 0 -2.30 0M663.8 575.6m-1.15 0a1.15 1.15 0 1 0 2.30 0a1.15 1.15 0 1 0 -2.30 0M665.5 568.1m-1.15 0a1.15 1.15 0 1 0 2.30 0a1.15 1.15 0 1 0 -2.30 0"/>
<rect x="401.5" y="496.5" width="277.0" height="164.9" fill="none" stroke="#787878" stroke-width="1"/>
<text x="399.70" y="643.36" font-family="Liberation Serif" font-size="9.85" fill="#141414" text-anchor="end" >0.0</text>
<text x="399.70" y="618.31" font-family="Liberation Serif" font-size="9.85" fill="#141414" text-anchor="end" >0.5</text>
<text x="399.70" y="593.26" font-family="Liberation Serif" font-size="9.85" fill="#141414" text-anchor="end" >1.0</text>
<text x="399.70" y="568.21" font-family="Liberation Serif" font-size="9.85" fill="#141414" text-anchor="end" >1.5</text>
<text x="399.70" y="543.16" font-family="Liberation Serif" font-size="9.85" fill="#141414" text-anchor="end" >2.0</text>
<text x="399.70" y="518.11" font-family="Liberation Serif" font-size="9.85" fill="#141414" text-anchor="end" >2.5</text>
<text x="414.10" y="670.50" font-family="Liberation Serif" font-size="9.85" fill="#141414" text-anchor="middle" >0</text>
<text x="448.30" y="670.50" font-family="Liberation Serif" font-size="9.85" fill="#141414" text-anchor="middle" >20</text>
<text x="482.50" y="670.50" font-family="Liberation Serif" font-size="9.85" fill="#141414" text-anchor="middle" >40</text>
<text x="516.70" y="670.50" font-family="Liberation Serif" font-size="9.85" fill="#141414" text-anchor="middle" >60</text>
<text x="550.90" y="670.50" font-family="Liberation Serif" font-size="9.85" fill="#141414" text-anchor="middle" >80</text>
<text x="585.10" y="670.50" font-family="Liberation Serif" font-size="9.85" fill="#141414" text-anchor="middle" >100</text>
<text x="619.30" y="670.50" font-family="Liberation Serif" font-size="9.85" fill="#141414" text-anchor="middle" >120</text>
<text x="653.50" y="670.50" font-family="Liberation Serif" font-size="9.85" fill="#141414" text-anchor="middle" >140</text>
<path d="M401.5 640.7h1.8M401.5 615.7h1.8M401.5 590.6h1.8M401.5 565.6h1.8M401.5 540.5h1.8M401.5 515.5h1.8M414.1 661.4v-1.8M448.3 661.4v-1.8M482.5 661.4v-1.8M516.7 661.4v-1.8M550.9 661.4v-1.8M585.1 661.4v-1.8M619.3 661.4v-1.8M653.5 661.4v-1.8" stroke="#787878" stroke-width="0.8" fill="none"/>
<text x="498.35" y="493.80" font-family="'Liberation Serif','Noto Serif CJK SC',serif" font-size="9.80" fill="#2c2c2c">2023年6号台风卡努</text>
<text x="530.20" y="682.50" font-family="'Liberation Serif','Noto Serif CJK SC',serif" font-size="9.80" fill="#141414">日期</text>
<g transform="rotate(-90 384.7 579.0)"><text x="374.90" y="578.95" font-family="'Liberation Serif','Noto Serif CJK SC',serif" font-size="9.80" fill="#141414">水位</text></g>
<rect x="608.0" y="501.7" width="65.0" height="30.6" rx="2" fill="#fff" fill-opacity="0.8" stroke="#d9d9d9" stroke-width="0.8"/>
<path d="M611.3 510.1H631.7" stroke="#0707c6" stroke-width="0.85"/>
<circle cx="621.5" cy="510.1" r="1.5" fill="#0707c6"/>
<path d="M611.3 523.9H631.7" stroke="#e2161c" stroke-width="0.85"/>
<circle cx="621.5" cy="523.9" r="1.0" fill="#e2161c"/>
<text x="640.40" y="513.60" font-family="'Liberation Serif','Noto Serif CJK SC',serif" font-size="9.60" fill="#3a3a3a">实测值</text>
<text x="640.40" y="527.40" font-family="'Liberation Serif','Noto Serif CJK SC',serif" font-size="9.60" fill="#3a3a3a">预测值</text>
<text x="584.60" y="514.50" font-family="Liberation Sans" font-size="17.50" fill="#111" text-anchor="middle" textLength="22.1" lengthAdjust="spacingAndGlyphs">(d)</text>
</g>
</svg>
</div>
</body></html>
